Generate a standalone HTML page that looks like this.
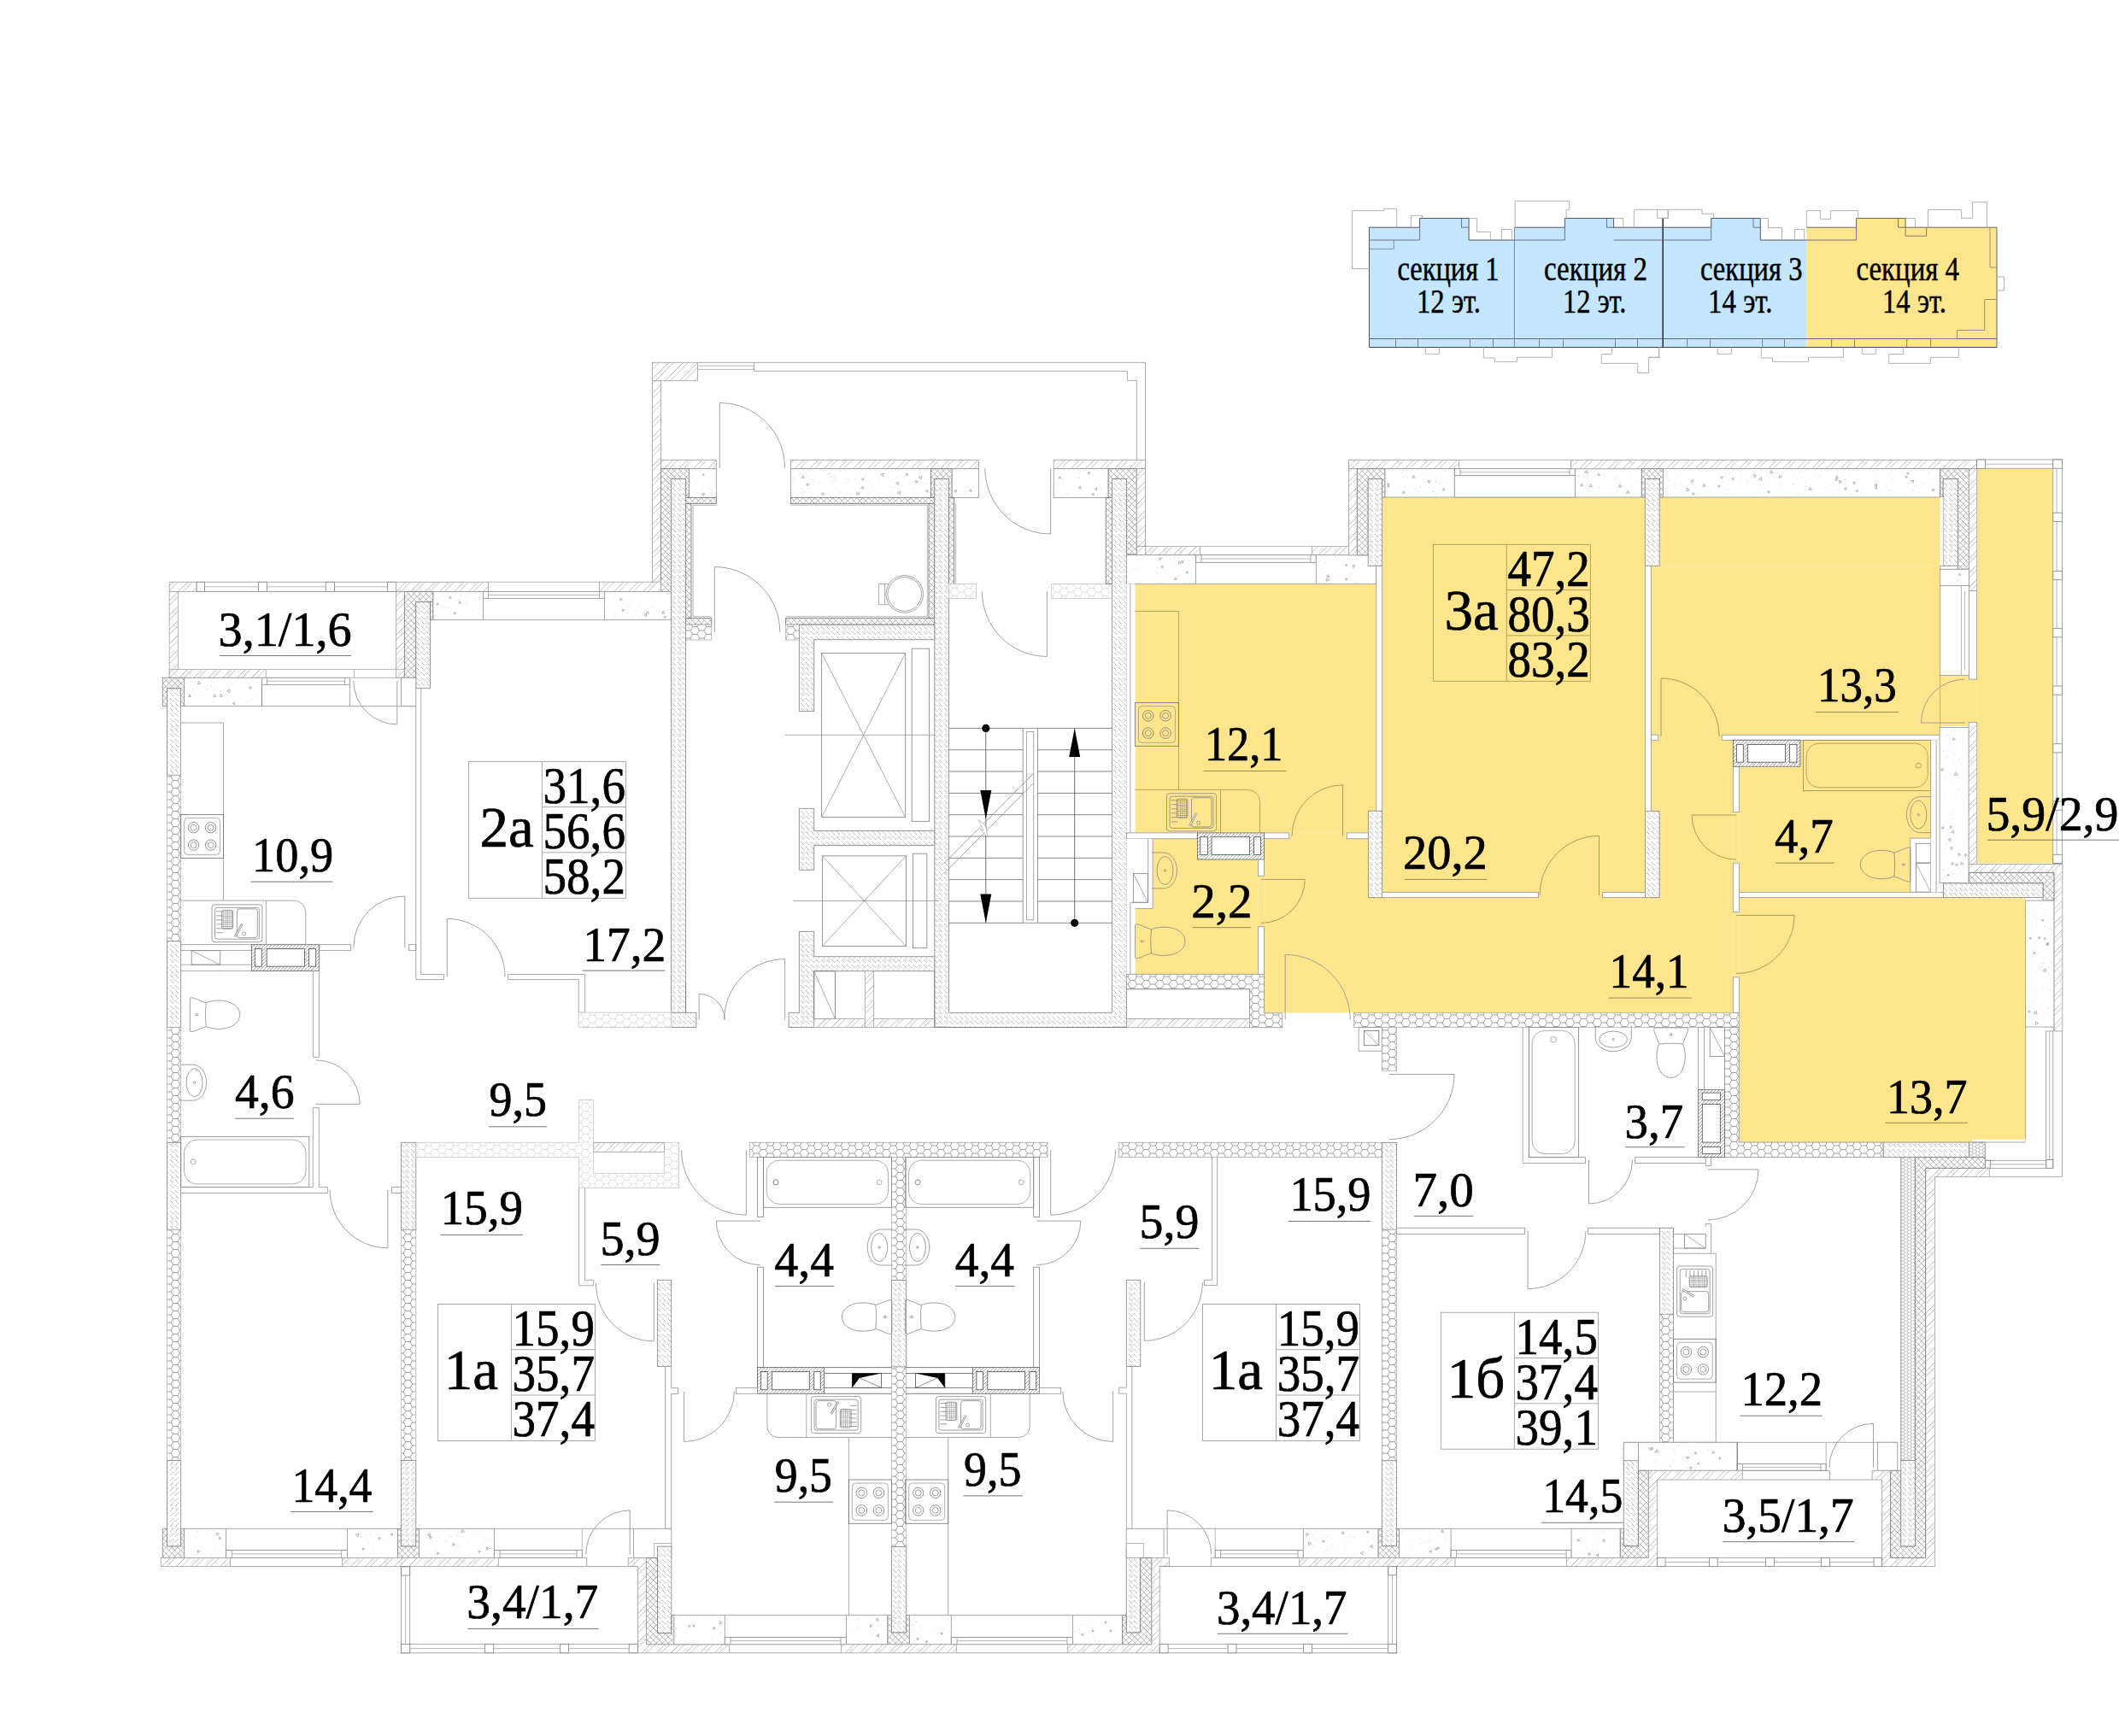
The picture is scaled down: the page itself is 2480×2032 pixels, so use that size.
<!DOCTYPE html>
<html><head><meta charset="utf-8"><title>plan</title>
<style>html,body{margin:0;padding:0;background:#fff}svg{display:block}text{font-family:"Liberation Serif",serif;fill:#000;stroke:#000;stroke-width:0.7px;stroke-linejoin:round}</style>
</head><body>
<svg width="2480" height="2032" viewBox="0 0 2480 2032" shape-rendering="auto">
<defs>
<pattern id="pF" width="17" height="17" patternUnits="userSpaceOnUse"><rect width="17" height="17" fill="#fff"/><path d="M-1 18L18 -1M-1 6.8L6.8 -1M4.8 18L18 4.8" stroke="#a6a6a6" stroke-width="0.7" fill="none"/></pattern>
<pattern id="pB" width="12" height="12" patternUnits="userSpaceOnUse"><rect width="12" height="12" fill="#fff"/><path d="M1 1L5.2 5.2M6.8 6.8L11 11M7 1L11.2 5.2M0.8 6.8L5 11M-1 11L1 13M11 -1L13 1" stroke="#a8a8a8" stroke-width="0.7" fill="none"/></pattern>
<pattern id="pB2" width="12" height="12" patternUnits="userSpaceOnUse"><rect width="12" height="12" fill="#fff"/><path d="M1 11L5.2 6.8M6.8 5.2L11 1M7 11L11.2 6.8M0.8 5.2L5 1M-1 1L1 -1M11 13L13 11" stroke="#a8a8a8" stroke-width="0.7" fill="none"/></pattern>
<pattern id="pX" width="7" height="7" patternUnits="userSpaceOnUse"><rect width="7" height="7" fill="#fff"/><path d="M-0.5 -0.5L7.5 7.5M-0.5 4L4 -0.5M3 7.5L7.5 3" stroke="#8a8a8a" stroke-width="0.6" fill="none"/></pattern>
<pattern id="pH" width="16" height="9" patternUnits="userSpaceOnUse"><rect width="16" height="9" fill="#fff"/><path d="M0 4.5L2.67 0L8 0L10.67 4.5L8 9L2.67 9ZM10.67 4.5L16 4.5" stroke="#7c7c7c" stroke-width="0.7" fill="none"/></pattern>
<pattern id="pHl" width="16" height="9" patternUnits="userSpaceOnUse"><rect width="16" height="9" fill="#fff"/><path d="M0 4.5L2.67 0L8 0L10.67 4.5L8 9L2.67 9ZM10.67 4.5L16 4.5" stroke="#d2d2d2" stroke-width="0.7" fill="none"/></pattern>
<pattern id="pF2" width="4" height="4" patternUnits="userSpaceOnUse"><rect width="4" height="4" fill="#fff"/><path d="M-1 5L5 -1M-1 1L1 -1M3 5L5 3" stroke="#888" stroke-width="0.7" fill="none"/></pattern>
<pattern id="pG" width="2.4" height="2.4" patternUnits="userSpaceOnUse"><path d="M0 1.2h2.4M1.2 0v2.4" stroke="#888" stroke-width="0.5" fill="none"/></pattern>
<pattern id="pHs" width="8" height="4" patternUnits="userSpaceOnUse"><rect width="8" height="4" fill="#fff"/><path d="M0 2L1.33 0L4 0L5.33 2L4 4L1.33 4ZM5.33 2L8 2" stroke="#8a8a8a" stroke-width="0.55" fill="none"/></pattern>
</defs>
<rect width="2480" height="2032" fill="#fff"/>
<path d="M1602.5 266.2L1661.6 266.2L1661.6 255.5L1719.1 255.5L1719.1 281L1772.4 281L1772.4 406.5L1602.5 406.5Z" stroke="none" stroke-width="0.85" fill="#c4e7ff"/>
<path d="M1772.4 266.2L1831.4 266.2L1831.4 255.5L1888.6 255.5L1888.6 266.2L1946 266.2L1946 406.5L1772.4 406.5Z" stroke="none" stroke-width="0.85" fill="#c4e7ff"/>
<path d="M1946 266.2L2002.7 266.2L2002.7 255.5L2060.3 255.5L2060.3 281L2114.4 281L2114.4 406.5L1946 406.5Z" stroke="none" stroke-width="0.85" fill="#c4e7ff"/>
<path d="M2114.4 266.2L2172.6 266.2L2172.6 255.5L2230.1 255.5L2230.1 266.2L2337 266.2L2337 406.5L2114.4 406.5Z" stroke="none" stroke-width="0.85" fill="#ffe58c"/>
<path d="M1602.5 406.5L1602.5 266.2L1661.6 266.2L1661.6 255.5L1719.1 255.5L1719.1 281L1772.4 281" stroke="#556" stroke-width="1" fill="none"/>
<path d="M1772.4 266.2L1831.4 266.2L1831.4 255.5L1888.6 255.5L1888.6 266.2L1946 266.2" stroke="#556" stroke-width="1" fill="none"/>
<path d="M1946 266.2L2002.7 266.2L2002.7 255.5L2060.3 255.5L2060.3 281L2114.4 281" stroke="#556" stroke-width="1" fill="none"/>
<path d="M2114.4 266.2L2172.6 266.2L2172.6 255.5L2230.1 255.5L2230.1 266.2L2337 266.2L2337 406.5" stroke="#666" stroke-width="1" fill="none"/>
<path d="M1602.5 406.5L2337 406.5" stroke="#445" stroke-width="1.2" fill="none"/>
<path d="M1602.5 396.5L2337 396.5" stroke="#667" stroke-width="1" fill="none"/>
<path d="M1772.4 266.2L1772.4 406.5" stroke="#789" stroke-width="1" fill="none"/>
<path d="M1946.2 255L1946.2 406.5" stroke="#334" stroke-width="1.6" fill="none"/>
<path d="M1602.5 281L1661.6 281" stroke="#667" stroke-width="0.9" fill="none"/>
<path d="M1772.4 281L1831.4 281" stroke="#667" stroke-width="0.9" fill="none"/>
<path d="M1888.6 281L1946 281" stroke="#667" stroke-width="0.9" fill="none"/>
<path d="M1946 281L2002.7 281" stroke="#667" stroke-width="0.9" fill="none"/>
<path d="M2114.4 281L2172.6 281" stroke="#667" stroke-width="0.9" fill="none"/>
<path d="M1661.6 266.2L1661.6 281" stroke="#667" stroke-width="0.9" fill="none"/>
<path d="M1831.4 266.2L1831.4 281" stroke="#667" stroke-width="0.9" fill="none"/>
<path d="M2002.7 266.2L2002.7 281" stroke="#667" stroke-width="0.9" fill="none"/>
<path d="M2172.6 266.2L2172.6 281" stroke="#667" stroke-width="0.9" fill="none"/>
<path d="M1602.5 291.4L1631.3 291.4L1631.3 281" stroke="#789" stroke-width="0.9" fill="none"/>
<path d="M1710.5 255.5L1710.5 266.2L1719.1 266.2" stroke="#667" stroke-width="0.9" fill="none"/>
<path d="M1880.5 255.5L1880.5 266.2L1889.1 266.2" stroke="#667" stroke-width="0.9" fill="none"/>
<path d="M2052 255.5L2052 266.2L2060.6 266.2" stroke="#667" stroke-width="0.9" fill="none"/>
<path d="M2221.5 255.5L2221.5 266.2L2230.1 266.2" stroke="#667" stroke-width="0.9" fill="none"/>
<path d="M2230.1 266.2L2230.1 276.2L2254.7 276.2L2254.7 266.2" stroke="#776" stroke-width="0.9" fill="none"/>
<path d="M1633.5 396.5L1633.5 406.5" stroke="#778" stroke-width="0.9" fill="none"/>
<path d="M1659.5 396.5L1659.5 406.5" stroke="#778" stroke-width="0.9" fill="none"/>
<path d="M1720.5 396.5L1720.5 406.5" stroke="#778" stroke-width="0.9" fill="none"/>
<path d="M1747.5 396.5L1747.5 406.5" stroke="#778" stroke-width="0.9" fill="none"/>
<path d="M1801.5 396.5L1801.5 406.5" stroke="#778" stroke-width="0.9" fill="none"/>
<path d="M1829.5 396.5L1829.5 406.5" stroke="#778" stroke-width="0.9" fill="none"/>
<path d="M1890.5 396.5L1890.5 406.5" stroke="#778" stroke-width="0.9" fill="none"/>
<path d="M1916.5 396.5L1916.5 406.5" stroke="#778" stroke-width="0.9" fill="none"/>
<path d="M1974.7 396.5L1974.7 406.5" stroke="#778" stroke-width="0.9" fill="none"/>
<path d="M2001.5 396.5L2001.5 406.5" stroke="#778" stroke-width="0.9" fill="none"/>
<path d="M2062.7 396.5L2062.7 406.5" stroke="#778" stroke-width="0.9" fill="none"/>
<path d="M2088.5 396.5L2088.5 406.5" stroke="#778" stroke-width="0.9" fill="none"/>
<path d="M2143.6 396.5L2143.6 406.5" stroke="#778" stroke-width="0.9" fill="none"/>
<path d="M2170.6 396.5L2170.6 406.5" stroke="#778" stroke-width="0.9" fill="none"/>
<path d="M2231.6 396.5L2231.6 406.5" stroke="#778" stroke-width="0.9" fill="none"/>
<path d="M2259.7 396.5L2259.7 406.5" stroke="#778" stroke-width="0.9" fill="none"/>
<path d="M2259.7 396.5L2290.5 396.5L2290.5 386.5L2322.7 386.5L2322.7 350.5L2337 350.5" stroke="#887" stroke-width="0.9" fill="none"/>
<path d="M2329 266.2L2329 313L2337 313" stroke="#887" stroke-width="0.9" fill="none"/>
<path d="M1602.5 314.5L1582.4 314.5L1582.4 246.6L1619.6 246.6L1619.6 244.3L1634.7 244.3L1634.7 266.2" stroke="#aaa" stroke-width="0.9" fill="none"/>
<path d="M1651.3 266.2L1651.3 252.3L1664.6 252.3L1664.6 255.5" stroke="#aaa" stroke-width="0.9" fill="none"/>
<path d="M1719.1 255.5L1728.6 255.5L1728.6 271.5L1744.4 271.5L1744.4 281" stroke="#aaa" stroke-width="0.9" fill="none"/>
<path d="M1757.4 281L1757.4 268.5L1769.4 268.5L1769.4 281" stroke="#aaa" stroke-width="0.9" fill="none"/>
<path d="M1772.4 266.2L1773.2 266.2L1773.2 235.3L1836.7 235.3L1836.7 245.7L1833.2 245.7L1833.2 255.5" stroke="#aaa" stroke-width="0.9" fill="none"/>
<path d="M1888.6 255.5L1899.8 255.5L1899.8 266.2" stroke="#aaa" stroke-width="0.9" fill="none"/>
<path d="M1912.4 266.2L1912.4 245.3L1939.7 245.3L1939.7 255.3L1952 255.3L1952 245.5L1939 245.5" stroke="#aaa" stroke-width="0.9" fill="none"/>
<path d="M1946 255.3L1952.5 255.3L1952.5 245.3L1992 245.3L1992 250.3L2005.7 250.3L2005.7 255.5" stroke="#aaa" stroke-width="0.9" fill="none"/>
<path d="M2060.3 255.5L2069.5 255.5L2069.5 266.5L2085.5 266.5L2085.5 281" stroke="#aaa" stroke-width="0.9" fill="none"/>
<path d="M2100.4 281L2100.4 268.5L2111.7 268.5L2111.7 281" stroke="#aaa" stroke-width="0.9" fill="none"/>
<path d="M2114.4 266.2L2114.4 246.6L2130.4 246.6L2130.4 256.4L2142.4 256.4L2142.4 246.6L2174.7 246.6L2174.7 255.5" stroke="#aaa" stroke-width="0.9" fill="none"/>
<path d="M2230.1 255.5L2241.5 255.5L2241.5 266.2" stroke="#aaa" stroke-width="0.9" fill="none"/>
<path d="M2256.5 266.2L2256.5 245.5L2295.6 245.5L2295.6 255.3L2308.6 255.3L2308.6 236.6L2325.4 236.6L2325.4 266.2" stroke="#aaa" stroke-width="0.9" fill="none"/>
<path d="M2337 324L2345.5 324L2345.5 340L2337 340" stroke="#aaa" stroke-width="0.9" fill="none"/>
<path d="M1668.4 406.5L1668.4 414.3L1684.4 414.3L1684.4 406.5" stroke="#aaa" stroke-width="0.9" fill="none"/>
<path d="M1736.3 406.5L1736.3 419L1749.5 419L1749.5 423.4L1775.5 423.4L1775.5 418.2L1816.5 418.2L1816.5 406.5" stroke="#aaa" stroke-width="0.9" fill="none"/>
<path d="M1886.5 406.5L1886.5 414.5L1874.3 414.5L1874.3 425.3L1916.7 425.3L1916.7 436.5L1929.7 436.5L1929.7 418.3L1941.7 418.3L1941.7 406.5" stroke="#aaa" stroke-width="0.9" fill="none"/>
<path d="M1930 418.3L1941.7 418.3L1941.7 406.5" stroke="#aaa" stroke-width="0.9" fill="none"/>
<path d="M2010.3 406.5L2010.3 414.3L2026.5 414.3L2026.5 406.5" stroke="#aaa" stroke-width="0.9" fill="none"/>
<path d="M2061.3 406.5L2061.3 419L2074.5 419L2074.5 423.4L2116.5 423.4L2116.5 418.2L2157.5 418.2L2157.5 406.5" stroke="#aaa" stroke-width="0.9" fill="none"/>
<path d="M2179.4 406.5L2179.4 414.3L2195.4 414.3L2195.4 406.5" stroke="#aaa" stroke-width="0.9" fill="none"/>
<path d="M2227.6 406.5L2227.6 414.5L2210.7 414.5L2210.7 425.3L2259.6 425.3L2259.6 418.3L2292.3 418.3L2292.3 406.5" stroke="#aaa" stroke-width="0.9" fill="none"/>
<text x="1635.5" y="328.2" font-size="40.5" textLength="119" lengthAdjust="spacingAndGlyphs" style="stroke-width:0.5px">секция 1</text>
<text x="1658" y="366" font-size="40.5" textLength="75" lengthAdjust="spacingAndGlyphs" style="stroke-width:0.5px">12 эт.</text>
<text x="1807" y="328.2" font-size="40.5" textLength="121" lengthAdjust="spacingAndGlyphs" style="stroke-width:0.5px">секция 2</text>
<text x="1829" y="366" font-size="40.5" textLength="74.5" lengthAdjust="spacingAndGlyphs" style="stroke-width:0.5px">12 эт.</text>
<text x="1990" y="328.2" font-size="40.5" textLength="119.5" lengthAdjust="spacingAndGlyphs" style="stroke-width:0.5px">секция 3</text>
<text x="1999" y="366" font-size="40.5" textLength="75.5" lengthAdjust="spacingAndGlyphs" style="stroke-width:0.5px">14 эт.</text>
<text x="2172.5" y="328.2" font-size="40.5" textLength="120.5" lengthAdjust="spacingAndGlyphs" style="stroke-width:0.5px">секция 4</text>
<text x="2203" y="366" font-size="40.5" textLength="75" lengthAdjust="spacingAndGlyphs" style="stroke-width:0.5px">14 эт.</text>
<rect x="198.2" y="681.3" width="31.9" height="11.1" fill="url(#pF)" stroke="#a0a0a0" stroke-width="0.8" />
<rect x="198.2" y="692.4" width="10.5" height="100.9" fill="url(#pF)" stroke="#a0a0a0" stroke-width="0.8" />
<rect x="198.2" y="783.4" width="113" height="9.9" fill="url(#pF)" stroke="#a0a0a0" stroke-width="0.8" />
<path d="M230.1 681.3L463.4 681.3" stroke="#999" stroke-width="0.85" fill="none"/>
<path d="M230.1 686.8L463.4 686.8" stroke="#aaa" stroke-width="0.85" fill="none"/>
<path d="M230.1 692.4L463.4 692.4" stroke="#888" stroke-width="0.85" fill="none"/>
<rect x="230.1" y="681.3" width="9.4" height="11.1" fill="#fff" stroke="#888" stroke-width="0.85" />
<rect x="302.5" y="681.3" width="9.9" height="11.1" fill="#fff" stroke="#888" stroke-width="0.85" />
<rect x="381.2" y="681.3" width="10.3" height="11.1" fill="#fff" stroke="#888" stroke-width="0.85" />
<rect x="453.5" y="681.3" width="9.9" height="11.1" fill="#fff" stroke="#888" stroke-width="0.85" />
<rect x="463.4" y="681.3" width="108.1" height="11.1" fill="url(#pF)" stroke="#a0a0a0" stroke-width="0.8" />
<rect x="463.4" y="692.4" width="10" height="100.9" fill="url(#pF)" stroke="#a0a0a0" stroke-width="0.8" />
<path d="M473.4 692.4L507 692.4L507 704.7L486.8 704.7L486.8 793.3L473.4 793.3Z" stroke="#7c7c7c" stroke-width="0.85" fill="url(#pX)"/>
<rect x="486.8" y="704.7" width="16.7" height="100.7" fill="url(#pB)" stroke="#888" stroke-width="0.85" />
<rect x="503.5" y="704.7" width="3.5" height="20.8" fill="url(#pX)" stroke="#777" stroke-width="0.85" />
<rect x="507" y="692.4" width="58.5" height="33.1" fill="#fff" stroke="#999" stroke-width="0.85" />
<path d="M526.2 698.4L528.4 699.3L526.4 700.7ZM539.8 705.9L536.8 706.4L537.9 703.6ZM513.2 707.7L510.8 707.9L511.9 705.8ZM533.4 718.9L530.8 718.2L532.7 716.4Z" stroke="#888" stroke-width="0.6" fill="none"/>
<path d="M543.2 722h.7M540.5 705.9h.7M562.2 695.8h.7M555.8 702.8h.7M516.9 697.8h.7M525.8 718.1h.7M518.8 711.3h.7M543.8 705.2h.7M538.9 696.2h.7M512.2 700.4h.7M546.1 706.8h.7M526.1 711.4h.7M533.7 703.1h.7M552.3 714.7h.7M522.3 711.1h.7M537.6 719.9h.7M548.8 702.8h.7M562.4 697.8h.7M531.8 716.4h.7M517.3 708.6h.7" stroke="#bbb" stroke-width="0.7" fill="none"/>
<path d="M311.2 783.4L473.4 783.4" stroke="#aaa" stroke-width="0.85" fill="none"/>
<path d="M311.2 793.3L473.4 793.3" stroke="#aaa" stroke-width="0.85" fill="none"/>
<path d="M414.5 783.4L414.5 793.3" stroke="#aaa" stroke-width="0.85" fill="none"/>
<path d="M190.3 793.3L215.7 793.3L215.7 826.6L211.3 826.6L211.3 805.8L195.5 805.8L195.5 826.6L190.3 826.6Z" stroke="#858585" stroke-width="0.85" fill="url(#pX)"/>
<rect x="195.5" y="805.8" width="15.8" height="101.5" fill="url(#pB)" stroke="#888" stroke-width="0.85" />
<rect x="215.7" y="793.3" width="90.8" height="33.3" fill="#fff" stroke="#999" stroke-width="0.85" />
<path d="M222.2 812.7L223.5 815.6L220.4 815.3ZM292.3 803.1L294.7 805.2L291.8 806.3ZM269 806.9L268.9 810.7L265.7 808.7ZM260.7 815.1L257.4 815.6L258.6 812.5ZM274.3 822L274.5 824.7L272 823.5ZM253.1 814.8L250.4 815.9L250.8 813ZM234.8 800.2L231.4 800.7L232.6 797.5Z" stroke="#888" stroke-width="0.6" fill="none"/>
<path d="M228.9 802.6h.7M251.6 820.8h.7M224.7 808.5h.7M265.4 821.2h.7M288.8 820.6h.7M241.9 807.5h.7M248.8 821.2h.7M300.8 799.7h.7M233 802.1h.7M238 809.5h.7M268.8 803h.7M218.1 807.6h.7M249.8 811.9h.7M300.4 815.5h.7M262.4 813.4h.7M276.4 796.9h.7M295.8 818.2h.7M293.6 818.7h.7M251.8 807h.7M226.7 813.9h.7M223.1 797.3h.7M235.8 800.1h.7M247.2 796.8h.7M217.7 799.7h.7M226.5 806h.7M219.9 820.9h.7M271 799.7h.7M239.6 805.5h.7M249.3 798.9h.7M291.4 824.4h.7M258.1 809.5h.7M225.2 798.3h.7M247.4 803.1h.7M289.6 800h.7M219.7 823.2h.7" stroke="#bbb" stroke-width="0.7" fill="none"/>
<rect x="306.5" y="793.3" width="103" height="8.1" fill="#fff" stroke="#999" stroke-width="0.85" />
<path d="M312.5 797.3L403.5 797.3" stroke="#aaa" stroke-width="0.85" fill="none"/>
<path d="M312.5 793.3L312.5 801.4" stroke="#999" stroke-width="0.85" fill="none"/>
<path d="M403.5 793.3L403.5 801.4" stroke="#999" stroke-width="0.85" fill="none"/>
<path d="M306.5 801.4L306.5 826.6" stroke="#888" stroke-width="0.85" fill="none"/>
<path d="M409.5 801.4L409.5 826.6" stroke="#999" stroke-width="0.85" fill="none"/>
<path d="M306.5 826.6L486.8 826.6" stroke="#999" stroke-width="0.85" fill="none"/>
<path d="M464.8 796.9L464.8 847.9A51 51 0 0 1 413.8 796.9" stroke="#999" stroke-width="0.9" fill="none"/>
<rect x="469.4" y="793.3" width="17.4" height="33.3" fill="#fff" stroke="#999" stroke-width="0.85" />
<text x="255.6" y="756.2" font-size="56" textLength="156" lengthAdjust="spacingAndGlyphs">3,1/1,6</text>
<path d="M256.9 767.5L410.9 767.5" stroke="#777" stroke-width="1" fill="none"/>
<rect x="763.4" y="424.3" width="53.1" height="21.4" fill="url(#pF)" stroke="#a0a0a0" stroke-width="0.8" />
<rect x="763.4" y="445.7" width="10.1" height="246.8" fill="url(#pF)" stroke="#a0a0a0" stroke-width="0.8" />
<path d="M816.5 424.3L1117 424.3" stroke="#999" stroke-width="0.85" fill="none"/>
<path d="M816.5 428.2L882.5 428.2" stroke="#aaa" stroke-width="0.85" fill="none"/>
<path d="M816.5 432.4L882.5 432.4" stroke="#aaa" stroke-width="0.85" fill="none"/>
<path d="M882.5 424.3L882.5 434.4" stroke="#999" stroke-width="0.85" fill="none"/>
<rect x="773.5" y="538.4" width="64.8" height="10.3" fill="url(#pF)" stroke="#a0a0a0" stroke-width="0.8" />
<path d="M773.5 548.7L806.6 548.7L806.6 582.4L802.6 582.4L802.6 560.6L785.8 560.6L785.8 692.5L773.5 692.5Z" stroke="#7c7c7c" stroke-width="0.85" fill="url(#pX)"/>
<rect x="806.6" y="548.7" width="31.7" height="33.7" fill="#fff" stroke="#999" stroke-width="0.85" />
<path d="M821.9 555.4L824.1 554.8L823.5 557ZM824.4 577.3L823.8 580.6L821.3 578.5Z" stroke="#888" stroke-width="0.6" fill="none"/>
<path d="M815.8 561.6h.7M813.2 573.6h.7M823.4 573.8h.7M817.7 557.3h.7M831.1 580h.7M832.2 574.6h.7M831.3 572.7h.7M814.9 566.1h.7M818.4 551.6h.7M809.4 559h.7" stroke="#bbb" stroke-width="0.7" fill="none"/>
<rect x="802.6" y="582.4" width="35.7" height="7" fill="url(#pX)" stroke="#777" stroke-width="0.85" />
<rect x="802.6" y="589.4" width="6.4" height="134.2" fill="url(#pX)" stroke="#777" stroke-width="0.85" />
<rect x="802.6" y="723.6" width="30.2" height="7.5" fill="url(#pX)" stroke="#777" stroke-width="0.85" />
<path d="M838.3 591.4L811 591.4L811 721.6L832.8 721.6" stroke="#aaa" stroke-width="0.85" fill="none"/>
<rect x="802.6" y="731.1" width="30.2" height="17.9" fill="url(#pH)" stroke="#aaa" stroke-width="0.75" />
<path d="M842.3 547.8L842.3 471.5A76.3 76.3 0 0 1 918.6 547.8" stroke="#999" stroke-width="0.9" fill="none"/>
<path d="M836.3 740L836.3 663.5A76.5 76.5 0 0 1 912.8 740" stroke="#999" stroke-width="0.9" fill="none"/>
<rect x="701.5" y="681.2" width="72" height="11.3" fill="url(#pF)" stroke="#a0a0a0" stroke-width="0.8" />
<rect x="565.4" y="692.5" width="142.1" height="7.9" fill="#fff" stroke="#999" stroke-width="0.85" />
<path d="M571.5 696.4L701.5 696.4" stroke="#aaa" stroke-width="0.85" fill="none"/>
<path d="M571.5 692.5L571.5 700.4" stroke="#999" stroke-width="0.85" fill="none"/>
<path d="M701.5 692.5L701.5 700.4" stroke="#999" stroke-width="0.85" fill="none"/>
<path d="M571.3 681.2L701.5 681.2" stroke="#aaa" stroke-width="0.85" fill="none"/>
<path d="M565.4 725.6L707.5 725.6" stroke="#999" stroke-width="0.85" fill="none"/>
<rect x="707.5" y="692.5" width="78.3" height="33.1" fill="#fff" stroke="#999" stroke-width="0.85" />
<path d="M730.9 713.8L728.8 715.9L728 713.1ZM779.8 721.8L777.9 723.9L777.1 721.2ZM726.9 703L725 701.4L727.4 700.5ZM756.5 718.4L756.4 721.4L753.9 719.8ZM759.3 718.1L756.1 718.1L757.7 715.3ZM776.3 715L777.8 717.6L774.8 717.6Z" stroke="#888" stroke-width="0.6" fill="none"/>
<path d="M722.8 717.5h.7M734.2 717.8h.7M781.7 706h.7M739.3 722.1h.7M763.4 699.4h.7M718.9 698.9h.7M776.7 718h.7M720.4 718.6h.7M782.3 713.6h.7M735.5 710.5h.7M719.2 694.9h.7M781.6 713.4h.7M748.6 721.7h.7M741.7 719.9h.7M770.9 700.6h.7M728.2 703h.7M727.4 711.6h.7M728.8 706.7h.7M719.2 721h.7M735.8 707.8h.7M752.8 720.8h.7M740.8 721.2h.7M746.8 710h.7M748.4 695h.7M742.2 699.8h.7M709.8 717.8h.7M722.3 708.3h.7M763.4 710.7h.7M733.7 709.6h.7M750.8 717.3h.7" stroke="#bbb" stroke-width="0.7" fill="none"/>
<path d="M1117 424.3L1340.5 424.3L1340.5 639" stroke="#999" stroke-width="0.85" fill="none"/>
<path d="M882.5 434.4L1319.4 434.4L1319.4 445.3L1330.3 445.3L1330.3 538.4" stroke="#999" stroke-width="0.85" fill="none"/>
<rect x="925.4" y="538.4" width="220.2" height="10.3" fill="url(#pF)" stroke="#a0a0a0" stroke-width="0.8" />
<rect x="1233.2" y="538.4" width="107.3" height="10.3" fill="url(#pF)" stroke="#a0a0a0" stroke-width="0.8" />
<rect x="925.4" y="548.7" width="164.1" height="33.7" fill="#fff" stroke="#999" stroke-width="0.85" />
<path d="M945.2 568.8L943.8 566.5L946.5 566.4ZM1048.7 565L1052.1 564.5L1050.8 567.7ZM1071.3 562.8L1074.3 563.4L1072.3 565.7ZM1007.7 571.4L1009.8 569.2L1010.7 572.1ZM1003.3 575.8L1006 578.2L1002.6 579.3ZM1075.4 558.1L1079 557.5L1077.7 561ZM1062.4 556.7L1059.6 556L1061.6 553.8ZM941.6 559.2L938.3 559.4L939.7 556.5ZM1053.4 578.2L1050.4 576.7L1053.2 574.8ZM1034.4 554.2L1033.3 557.8L1030.7 555ZM961.7 579.1L962.9 576.4L964.7 578.8ZM1085.8 576.2L1083.2 574.8L1085.7 573.3ZM1010.4 562.6L1008.4 560.8L1010.9 559.9Z" stroke="#888" stroke-width="0.6" fill="none"/>
<path d="M1043 551.3h.7M1016.1 563.8h.7M930.3 560.5h.7M1027.3 565.9h.7M937.7 580h.7M1053.6 579.6h.7M944.2 558.6h.7M933.7 573.8h.7M970.7 554.5h.7M995 577.8h.7M1058.5 558.4h.7M951.3 578h.7M1018.8 571.5h.7M941.7 552.4h.7M1037.6 563.3h.7M939 578.6h.7M1029 574.5h.7M940.8 576.1h.7M938.1 576.3h.7M1000 560.8h.7M1015.9 578.2h.7M970.3 554.5h.7M1011.8 557.8h.7M944.9 555.5h.7M935.5 556.7h.7M977.3 559.8h.7M1049 559.3h.7M1007.5 556h.7M983 551.2h.7M967.5 551.2h.7M1044.8 567.1h.7M957.7 564.8h.7M1077 553.9h.7M1058.5 563.5h.7M1006.6 575.5h.7M990.3 565.7h.7M1037.5 579.9h.7M982.3 575.4h.7M1040.5 569.6h.7M992.2 561h.7M936.1 554.6h.7M938.7 572.7h.7M968.3 555.5h.7M940.9 575.7h.7M1066.8 570.6h.7M972.5 557.9h.7M974.3 564.3h.7M952.6 563.9h.7M969.5 579.3h.7M1083.1 566.9h.7M966.5 579.4h.7M977 561.3h.7M927.6 562h.7M1003.4 565.6h.7M959.6 565.7h.7M928.2 558.5h.7M941.8 562.6h.7M934.1 551.4h.7M976.1 557.6h.7M1021.2 566.4h.7M1047.6 570.2h.7M1042 576.8h.7M989.8 560.4h.7M1085.1 555.1h.7M1043.3 569.8h.7" stroke="#bbb" stroke-width="0.7" fill="none"/>
<path d="M1089.5 548.7L1114.2 548.7L1114.2 582.4L1110.3 582.4L1110.3 560.6L1093.8 560.6L1093.8 582.4L1089.5 582.4Z" stroke="#7c7c7c" stroke-width="0.85" fill="url(#pX)"/>
<rect x="1114.2" y="548.7" width="31.4" height="33.7" fill="#fff" stroke="#999" stroke-width="0.85" />
<path d="M1119.8 573.7L1118.6 576.7L1116.6 574.2ZM1137 575.6L1134.1 574.5L1136.4 572.5Z" stroke="#888" stroke-width="0.6" fill="none"/>
<path d="M1130 575.5h.7M1138.2 575.2h.7M1132.2 577.2h.7M1134.9 571.3h.7M1122.5 551.6h.7M1119.8 561.4h.7M1119.1 575.5h.7M1131.5 569.3h.7M1133.4 570.9h.7M1129.6 550.8h.7" stroke="#bbb" stroke-width="0.7" fill="none"/>
<rect x="925.4" y="582.4" width="168.4" height="7" fill="url(#pX)" stroke="#777" stroke-width="0.85" />
<rect x="1087" y="589.4" width="6.8" height="134.2" fill="url(#pX)" stroke="#777" stroke-width="0.85" />
<rect x="919.6" y="723.6" width="174.2" height="7.5" fill="url(#pX)" stroke="#777" stroke-width="0.85" />
<path d="M925.4 591.2L1085.3 591.2L1085.3 721.6L919.6 721.6" stroke="#aaa" stroke-width="0.85" fill="none"/>
<rect x="1093.8" y="560.6" width="16.6" height="641.6" fill="url(#pB)" stroke="#888" stroke-width="0.85" />
<rect x="1110.4" y="582.4" width="6.2" height="101.1" fill="url(#pX)" stroke="#777" stroke-width="0.85" />
<path d="M1118.6 589L1118.6 683.5" stroke="#aaa" stroke-width="0.85" fill="none"/>
<rect x="1110.7" y="683.5" width="31.9" height="16.9" fill="url(#pHl)" stroke="#ccc" stroke-width="0.85" />
<rect x="1230.6" y="683.5" width="71" height="16.9" fill="url(#pHl)" stroke="#ccc" stroke-width="0.85" />
<path d="M1229.6 548.2L1229.6 625A76.8 76.8 0 0 1 1152.8 548.2" stroke="#999" stroke-width="0.9" fill="none"/>
<path d="M1225.4 692.4L1225.4 768.4A76 76 0 0 1 1149.4 692.4" stroke="#999" stroke-width="0.9" fill="none"/>
<circle cx="1058.7" cy="695.4" r="21.8" fill="#fff" stroke="#999" stroke-width="0.9"/>
<circle cx="1058.7" cy="695.4" r="19.8" fill="none" stroke="#999" stroke-width="0.9"/>
<path d="M1040 683.5L1028.4 683.5L1028.4 707.7L1040 707.7" stroke="#999" stroke-width="0.85" fill="none"/>
<path d="M1035.5 683.5L1035.5 707.7" stroke="#aaa" stroke-width="0.85" fill="none"/>
<rect x="1233.2" y="548.7" width="64" height="33.7" fill="#fff" stroke="#999" stroke-width="0.85" />
<path d="M1280.7 572.4L1283.4 570.9L1283.3 574ZM1274.3 552L1275.8 554.2L1273.2 554.4ZM1240.3 557.6L1241.9 559.6L1239.3 560ZM1277.5 578.8L1279.9 577.3L1280 580.1ZM1264.2 568.8L1265.5 571.7L1262.3 571.4Z" stroke="#888" stroke-width="0.6" fill="none"/>
<path d="M1273.8 553h.7M1244 558.2h.7M1279.8 559.7h.7M1269.3 551.1h.7M1238.8 558.7h.7M1275.5 571.3h.7M1275.7 559.3h.7M1266.2 564.5h.7M1263.2 554.2h.7M1288.8 556.6h.7M1293.9 578.5h.7M1236.3 564.3h.7M1284.4 579.5h.7M1262.2 558.7h.7M1247.8 578.8h.7M1247.8 568h.7M1243.7 566.3h.7M1292.4 554.6h.7M1284.4 565.8h.7M1288.4 571.6h.7M1249.1 577.4h.7M1264.4 551.4h.7M1235.4 565.3h.7M1262.2 559.7h.7M1243.6 560.9h.7" stroke="#bbb" stroke-width="0.7" fill="none"/>
<path d="M1297.2 548.7L1330.3 548.7L1330.3 649.2L1318.4 649.2L1318.4 560.6L1301.6 560.6L1301.6 582.4L1297.2 582.4Z" stroke="#7c7c7c" stroke-width="0.85" fill="url(#pX)"/>
<rect x="1330.3" y="548.7" width="10.2" height="100.5" fill="url(#pF)" stroke="#a0a0a0" stroke-width="0.8" />
<rect x="1294.2" y="582.4" width="7.4" height="101.1" fill="url(#pX)" stroke="#777" stroke-width="0.85" />
<rect x="1301.6" y="560.6" width="16.9" height="641.6" fill="url(#pB)" stroke="#888" stroke-width="0.85" />
<rect x="785.6" y="560.6" width="17" height="641.6" fill="url(#pB)" stroke="#888" stroke-width="0.85" />
<rect x="919.6" y="731.1" width="15.8" height="17.9" fill="url(#pH)" stroke="#aaa" stroke-width="0.75" />
<path d="M935.4 731.3L1093.8 731.3L1093.8 748.7L952.7 748.7L952.7 832.6L935.4 832.6Z" stroke="#858585" stroke-width="0.85" fill="url(#pB)"/>
<path d="M935.4 946.4L952.7 946.4L952.7 972.5L1093.8 972.5L1093.8 989.5L952.7 989.5L952.7 1018.3L935.4 1018.3Z" stroke="#858585" stroke-width="0.85" fill="url(#pB)"/>
<rect x="961.6" y="764.4" width="98.1" height="192.1" fill="none" stroke="#888" stroke-width="0.85" />
<path d="M961.6 764.4L1059.7 956.5" stroke="#999" stroke-width="0.8" fill="none"/>
<path d="M1059.7 764.4L961.6 956.5" stroke="#999" stroke-width="0.8" fill="none"/>
<rect x="1067.2" y="759.2" width="20.3" height="202.2" fill="none" stroke="#888" stroke-width="0.85" />
<path d="M918.6 860.3L1093.8 860.3" stroke="#999" stroke-width="0.8" fill="none"/>
<rect x="962.4" y="1001.8" width="98.1" height="105.7" fill="none" stroke="#888" stroke-width="0.85" />
<path d="M962.4 1001.8L1060.5 1107.5" stroke="#999" stroke-width="0.8" fill="none"/>
<path d="M1060.5 1001.8L962.4 1107.5" stroke="#999" stroke-width="0.8" fill="none"/>
<rect x="1068.4" y="999.2" width="16.4" height="110.5" fill="none" stroke="#888" stroke-width="0.85" />
<path d="M928 1054.5L1099 1054.5" stroke="#999" stroke-width="0.8" fill="none"/>
<path d="M1110.4 852.4L1197.2 852.4" stroke="#707070" stroke-width="0.85" fill="none"/>
<path d="M1214.5 852.4L1301.6 852.4" stroke="#707070" stroke-width="0.85" fill="none"/>
<path d="M1110.4 877.7L1197.2 877.7" stroke="#707070" stroke-width="0.85" fill="none"/>
<path d="M1214.5 877.7L1301.6 877.7" stroke="#707070" stroke-width="0.85" fill="none"/>
<path d="M1110.4 903L1197.2 903" stroke="#707070" stroke-width="0.85" fill="none"/>
<path d="M1214.5 903L1301.6 903" stroke="#707070" stroke-width="0.85" fill="none"/>
<path d="M1110.4 928.4L1197.2 928.4" stroke="#707070" stroke-width="0.85" fill="none"/>
<path d="M1214.5 928.4L1301.6 928.4" stroke="#707070" stroke-width="0.85" fill="none"/>
<path d="M1110.4 953.7L1197.2 953.7" stroke="#707070" stroke-width="0.85" fill="none"/>
<path d="M1214.5 953.7L1301.6 953.7" stroke="#707070" stroke-width="0.85" fill="none"/>
<path d="M1110.4 979L1197.2 979" stroke="#707070" stroke-width="0.85" fill="none"/>
<path d="M1214.5 979L1301.6 979" stroke="#707070" stroke-width="0.85" fill="none"/>
<path d="M1110.4 1004.3L1197.2 1004.3" stroke="#707070" stroke-width="0.85" fill="none"/>
<path d="M1214.5 1004.3L1301.6 1004.3" stroke="#707070" stroke-width="0.85" fill="none"/>
<path d="M1110.4 1029.6L1197.2 1029.6" stroke="#707070" stroke-width="0.85" fill="none"/>
<path d="M1214.5 1029.6L1301.6 1029.6" stroke="#707070" stroke-width="0.85" fill="none"/>
<path d="M1110.4 1055L1197.2 1055" stroke="#707070" stroke-width="0.85" fill="none"/>
<path d="M1214.5 1055L1301.6 1055" stroke="#707070" stroke-width="0.85" fill="none"/>
<path d="M1110.4 1080.3L1197.2 1080.3" stroke="#707070" stroke-width="0.85" fill="none"/>
<path d="M1214.5 1080.3L1301.6 1080.3" stroke="#707070" stroke-width="0.85" fill="none"/>
<path d="M1197.2 852.4L1197.2 1080.3" stroke="#888" stroke-width="0.85" fill="none"/>
<path d="M1214.5 852.4L1214.5 1080.3" stroke="#888" stroke-width="0.85" fill="none"/>
<path d="M1197.2 852.4L1214.5 852.4" stroke="#888" stroke-width="0.85" fill="none"/>
<path d="M1197.2 1080.3L1214.5 1080.3" stroke="#888" stroke-width="0.85" fill="none"/>
<rect x="1201.6" y="856.4" width="8.1" height="220.4" fill="none" stroke="#999" stroke-width="0.85" />
<path d="M1153.8 852.4L1153.8 1080.3" stroke="#555" stroke-width="0.85" fill="none"/>
<path d="M1257.7 852.4L1257.7 1080.3" stroke="#555" stroke-width="0.85" fill="none"/>
<circle cx="1153.8" cy="852.4" r="4.6" fill="#000"/><circle cx="1257.7" cy="1080.3" r="4.6" fill="#000"/>
<path d="M1147.3 925.1h13L1153.8 958.8ZM1147.3 1046.4h13L1153.8 1080.3ZM1251.2 886.1h13L1257.7 852.4Z" fill="#000"/>
<path d="M1209.1 905.9L1104.1 1011.4M1209.1 917.2L1104.1 1023.3" stroke="#999" stroke-width="0.9" fill="none"/>
<path d="M1153 966L1145 959.5L1151 972L1147 970L1156 980L1154 969Z" fill="#fff" stroke="#aaa" stroke-width="0.7"/>
<path d="M785.6 1185.3L802.6 1185.3L814.9 1185.3L814.9 1202.5L785.6 1202.5Z" stroke="#858585" stroke-width="0.85" fill="url(#pB)"/>
<path d="M802.6 1185.3L802.6 1150" stroke="#777" stroke-width="0.85" fill="none"/>
<rect x="740" y="1185.3" width="45.6" height="17.2" fill="url(#pHl)" stroke="#ccc" stroke-width="0.85" />
<path d="M818.1 1193.6L818.1 1163.4A30.2 30.2 0 0 1 848.3 1193.6" stroke="#999" stroke-width="0.9" fill="none"/>
<path d="M918.6 1193.6L918.6 1122.6A71 71 0 0 0 847.6 1193.6" stroke="#999" stroke-width="0.9" fill="none"/>
<path d="M935.4 1090.5L952.7 1090.5L952.7 1119.7L1093.8 1119.7L1093.8 1136.7L952.7 1136.7L952.7 1202.5L923.1 1202.5L923.1 1185.3L935.4 1185.3Z" stroke="#858585" stroke-width="0.85" fill="url(#pB)"/>
<rect x="952.7" y="1136.7" width="24.7" height="55.9" fill="none" stroke="#777" stroke-width="0.85" />
<path d="M952.7 1136.7L977.4 1192.6" stroke="#999" stroke-width="0.8" fill="none"/>
<rect x="952.7" y="1192.6" width="59.6" height="9.9" fill="url(#pF)" stroke="#a0a0a0" stroke-width="0.8" />
<rect x="1022.6" y="1192.6" width="71.2" height="9.9" fill="url(#pF)" stroke="#a0a0a0" stroke-width="0.8" />
<rect x="1012.3" y="1136.7" width="10.3" height="65.8" fill="url(#pF)" stroke="#a0a0a0" stroke-width="0.8" />
<path d="M1093.8 1136.7L1093.8 1202.5" stroke="#777" stroke-width="0.85" fill="none"/>
<rect x="1110.4" y="1185.3" width="191.2" height="17.2" fill="url(#pB)" stroke="#888" stroke-width="0.85" />
<path d="M1110.4 1185.3L1110.4 1202.5" stroke="#fff" stroke-width="1.5" fill="none"/>
<path d="M1301.6 1185.3L1301.6 1202.5" stroke="#fff" stroke-width="1.5" fill="none"/>
<path d="M1093.8 1202.5L1318.5 1202.5" stroke="#777" stroke-width="0.85" fill="none"/>
<rect x="195.5" y="907.3" width="16.2" height="194.4" fill="url(#pH)" stroke="#aaa" stroke-width="0.75" />
<rect x="195.5" y="1101.7" width="16.2" height="100.9" fill="url(#pB)" stroke="#888" stroke-width="0.85" />
<rect x="195.5" y="1202.6" width="16.2" height="134.7" fill="url(#pH)" stroke="#aaa" stroke-width="0.75" />
<rect x="195.5" y="1337.3" width="16.2" height="102" fill="url(#pB)" stroke="#888" stroke-width="0.85" />
<rect x="195.5" y="1439.3" width="16.2" height="270.3" fill="url(#pH)" stroke="#aaa" stroke-width="0.75" />
<path d="M211.7 846L261.5 846L261.5 1054.1" stroke="#999" stroke-width="0.85" fill="none"/>
<rect x="211.7" y="953.4" width="49.8" height="51" fill="none" stroke="#777" stroke-width="0.85" />
<rect x="215.7" y="957.4" width="41.8" height="43" rx="4" fill="none" stroke="#999" stroke-width="0.8"/>
<circle cx="226.6" cy="968.7" r="6.2" fill="none" stroke="#777" stroke-width="0.8"/>
<circle cx="226.6" cy="968.7" r="3.5" fill="none" stroke="#888" stroke-width="0.8"/>
<circle cx="226.6" cy="989.1" r="6.2" fill="none" stroke="#777" stroke-width="0.8"/>
<circle cx="226.6" cy="989.1" r="3.5" fill="none" stroke="#888" stroke-width="0.8"/>
<circle cx="246.6" cy="968.7" r="6.2" fill="none" stroke="#777" stroke-width="0.8"/>
<circle cx="246.6" cy="968.7" r="3.5" fill="none" stroke="#888" stroke-width="0.8"/>
<circle cx="246.6" cy="989.1" r="6.2" fill="none" stroke="#777" stroke-width="0.8"/>
<circle cx="246.6" cy="989.1" r="3.5" fill="none" stroke="#888" stroke-width="0.8"/>
<path d="M211.7 1054.1H343.8A14 14 0 0 1 357.8 1068.1V1105.7" stroke="#999" stroke-width="0.85" fill="none"/>
<path d="M311.4 1054.1L311.4 1105.7" stroke="#999" stroke-width="0.85" fill="none"/>
<g transform="translate(277.4 1080.8) rotate(0)" fill="none" stroke="#888" stroke-width="0.8"><rect x="-29.4" y="-21.9" width="58.9" height="43.8" rx="3"/><rect x="-25.9" y="-18.4" width="51.9" height="36.8" rx="3"/><rect x="0" y="-16.9" width="23.9" height="33.8" rx="3"/><rect x="-17.7" y="-15.4" width="13" height="21.9" rx="2" fill="url(#pG)"/><path d="M-24.4 -13.9h7.7M-24.4 -8.9h7.7M-24.4 -4h7.7M-24.4 1h7.7M-24.4 6h7.7M-24.4 10.9h7.7"/><path d="M-2.4 15.9L5.9 0.9" stroke-width="2.4" stroke="#888"/><path d="M-2.4 15.9L5.9 0.9" stroke-width="1" stroke="#fff"/><circle cx="8.2" cy="12.3" r="2"/></g>
<text x="295.1" y="1019.8" font-size="56" textLength="95.1" lengthAdjust="spacingAndGlyphs">10,9</text>
<path d="M293.4 1032.1L389.7 1032.1" stroke="#777" stroke-width="1" fill="none"/>
<rect x="211.7" y="1105.7" width="82.7" height="6.9" fill="none" stroke="#999" stroke-width="0.85" />
<rect x="373.3" y="1105.7" width="37.2" height="6.9" fill="none" stroke="#999" stroke-width="0.85" />
<rect x="294.4" y="1105.7" width="78.9" height="30.7" fill="url(#pF2)" stroke="#666" stroke-width="0.85" />
<rect x="298.3" y="1110.6" width="8" height="20.6" fill="#fff" stroke="#555" stroke-width="0.85" />
<rect x="312.2" y="1110.6" width="44.2" height="20.6" fill="#fff" stroke="#555" stroke-width="0.85" />
<rect x="361.4" y="1110.6" width="8.3" height="20.6" fill="#fff" stroke="#555" stroke-width="0.85" />
<rect x="224.2" y="1112.6" width="33.5" height="16.6" fill="none" stroke="#888" stroke-width="0.85" />
<path d="M224.2 1112.6L257.7 1129.2" stroke="#999" stroke-width="0.8" fill="none"/>
<path d="M211.7 1129.2L294.4 1129.2" stroke="#999" stroke-width="0.85" fill="none"/>
<path d="M211.7 1136.4L294.4 1136.4" stroke="#999" stroke-width="0.85" fill="none"/>
<rect x="366.3" y="1136.4" width="7" height="100.9" fill="none" stroke="#999" stroke-width="0.85" />
<path d="M366.3 1389.6L366.3 1296.7L373.3 1296.7L373.3 1389.6" stroke="#999" stroke-width="0.85" fill="none"/>
<path d="M369.7 1292.4L421.2 1292.4A51.5 51.5 0 0 0 369.7 1240.9" stroke="#999" stroke-width="0.9" fill="none"/>
<g transform="translate(261.3 1187.7) rotate(0) scale(1.0)" fill="none" stroke="#888" stroke-width="0.8"><path d="M-20 -14C-30 -17 -37 -22 -39 -19L-39 19C-37 22 -30 17 -20 14C-21 5 -21 -5 -20 -14Z"/><path d="M-20 -14C-5 -20 19 -16 19.5 0C19 16 -5 20 -20 14"/><ellipse cx="-31" cy="0" rx="1.6" ry="1.1"/></g>
<g transform="translate(227.6 1267.2) rotate(0) scale(1.0)" fill="none" stroke="#888" stroke-width="0.8"><path d="M-16 -21L-2 -21C8 -21 14 -10 14 0C14 10 8 21 -2 21L-16 21"/><ellipse cx="0" cy="0" rx="9.5" ry="16.5"/><circle cx="0" cy="0" r="1.2"/></g>
<rect x="211.7" y="1330.3" width="150.1" height="59.3" fill="none" stroke="#888" stroke-width="0.85" />
<rect x="215.5" y="1334.1" width="142.5" height="51.7" rx="15" ry="15" fill="none" stroke="#999" stroke-width="0.8"/>
<circle cx="226.2" cy="1359.9" r="3" fill="none" stroke="#999" stroke-width="0.8"/>
<text x="275" y="1297.3" font-size="56" textLength="69.6" lengthAdjust="spacingAndGlyphs">4,6</text>
<path d="M275.1 1309.2L344.1 1309.2" stroke="#777" stroke-width="1" fill="none"/>
<path d="M373.3 1389.6L383.6 1389.6L383.6 1396.5L211.7 1396.5" stroke="#999" stroke-width="0.85" fill="none"/>
<path d="M211.7 1389.6L366.3 1389.6" stroke="#999" stroke-width="0.85" fill="none"/>
<path d="M473.8 1109L473.8 1049A60 60 0 0 0 413.8 1109" stroke="#999" stroke-width="0.9" fill="none"/>
<rect x="478.7" y="1105.7" width="8.1" height="6.9" fill="none" stroke="#999" stroke-width="0.85" />
<path d="M486.8 826.6L486.8 1146.6L519.6 1146.6L519.6 1140.5L492.8 1140.5L492.8 805.4" stroke="#999" stroke-width="0.85" fill="none"/>
<path d="M523.3 1143.2L523.3 1075.4A67.8 67.8 0 0 1 591.1 1143.2" stroke="#999" stroke-width="0.9" fill="none"/>
<path d="M594.4 1140.5L684.6 1140.5L684.6 1185.1L677.2 1185.1L677.2 1146.6L594.4 1146.6L594.4 1140.5" stroke="#999" stroke-width="0.85" fill="none"/>
<rect x="677.2" y="1185.1" width="108.4" height="17.4" fill="url(#pHl)" stroke="#ccc" stroke-width="0.85" />
<rect x="548.4" y="891.3" width="184" height="160" fill="none" stroke="#999" stroke-width="0.85" />
<path d="M634.4 891.3L634.4 1051.3" stroke="#999" stroke-width="0.85" fill="none"/>
<path d="M634.4 944.6L732.4 944.6" stroke="#999" stroke-width="0.85" fill="none"/>
<path d="M634.4 997.9L732.4 997.9" stroke="#999" stroke-width="0.85" fill="none"/>
<text x="635.6" y="939.9" font-size="61" textLength="96.3" lengthAdjust="spacingAndGlyphs">31,6</text>
<text x="635.6" y="993" font-size="61" textLength="96.3" lengthAdjust="spacingAndGlyphs">56,6</text>
<text x="635.6" y="1046.1" font-size="61" textLength="96.3" lengthAdjust="spacingAndGlyphs">58,2</text>
<text x="561.4" y="990.7" font-size="67">2а</text>
<text x="682.2" y="1125" font-size="56" textLength="97.1" lengthAdjust="spacingAndGlyphs">17,2</text>
<path d="M681.8 1136.1L778.3 1136.1" stroke="#777" stroke-width="1" fill="none"/>
<path d="M453.9 1392.9L453.9 1460.7A67.8 67.8 0 0 1 386.1 1392.9" stroke="#999" stroke-width="0.9" fill="none"/>
<rect x="458.5" y="1389.6" width="10.9" height="6.9" fill="none" stroke="#999" stroke-width="0.85" />
<text x="572.5" y="1305.8" font-size="56" textLength="67.4" lengthAdjust="spacingAndGlyphs">9,5</text>
<path d="M572 1318.8L640 1318.8" stroke="#777" stroke-width="1" fill="none"/>
<rect x="195.5" y="1709.6" width="16.2" height="100.5" fill="url(#pB2)" stroke="#888" stroke-width="0.85" />
<rect x="469.4" y="1337.3" width="17.4" height="102" fill="url(#pB)" stroke="#888" stroke-width="0.85" />
<rect x="469.4" y="1439.3" width="17.4" height="270.1" fill="url(#pH)" stroke="#aaa" stroke-width="0.75" />
<rect x="469.4" y="1709.4" width="17.4" height="100.7" fill="url(#pB2)" stroke="#888" stroke-width="0.85" />
<path d="M486.8 1337.4H677.6V1287.4H694.7V1337.4H794.6V1390.3H677.6V1354.6H486.8Z M694.7 1348.3V1373.4H777.3V1348.3Z" fill="url(#pHl)" fill-rule="evenodd" stroke="#ccc" stroke-width="0.9"/>
<rect x="694.7" y="1337.4" width="82.6" height="10.9" fill="url(#pF)" stroke="#a0a0a0" stroke-width="0.8" />
<text x="515.8" y="1433.3" font-size="56" textLength="96.2" lengthAdjust="spacingAndGlyphs">15,9</text>
<path d="M515.3 1445.4L611.8 1445.4" stroke="#777" stroke-width="1" fill="none"/>
<text x="702.4" y="1468.6" font-size="56" textLength="70.3" lengthAdjust="spacingAndGlyphs">5,9</text>
<path d="M703.4 1480.5L772.4 1480.5" stroke="#777" stroke-width="1" fill="none"/>
<path d="M677.6 1390.3L677.6 1504.8L694.7 1504.8L694.7 1498.3L684.6 1498.3L684.6 1390.3" stroke="#999" stroke-width="0.85" fill="none"/>
<path d="M765.4 1501.9L765.4 1569.9A68 68 0 0 1 697.4 1501.9" stroke="#999" stroke-width="0.9" fill="none"/>
<rect x="769.4" y="1498.3" width="16.2" height="101.1" fill="url(#pB)" stroke="#888" stroke-width="0.85" />
<path d="M778.7 1599.4L778.7 1789.3L785.6 1789.3L785.6 1631.5L793.6 1631.5L793.6 1624.6L785.6 1624.6L785.6 1599.4" stroke="#999" stroke-width="0.85" fill="none"/>
<rect x="512.4" y="1526.4" width="184" height="160" fill="none" stroke="#999" stroke-width="0.85" />
<path d="M598.4 1526.4L598.4 1686.4" stroke="#999" stroke-width="0.85" fill="none"/>
<path d="M598.4 1579.7L696.4 1579.7" stroke="#999" stroke-width="0.85" fill="none"/>
<path d="M598.4 1633L696.4 1633" stroke="#999" stroke-width="0.85" fill="none"/>
<text x="599.6" y="1575" font-size="61" textLength="96.3" lengthAdjust="spacingAndGlyphs">15,9</text>
<text x="599.6" y="1628.1" font-size="61" textLength="96.3" lengthAdjust="spacingAndGlyphs">35,7</text>
<text x="599.6" y="1681.2" font-size="61" textLength="96.3" lengthAdjust="spacingAndGlyphs">37,4</text>
<text x="519.7" y="1625.8" font-size="67">1а</text>
<text x="341.4" y="1757.9" font-size="56" textLength="94.1" lengthAdjust="spacingAndGlyphs">14,4</text>
<path d="M340.2 1769.4L437 1769.4" stroke="#777" stroke-width="1" fill="none"/>
<path d="M190.3 1789.3L195.5 1789.3L195.5 1810.1L211.7 1810.1L211.7 1789.3L215.7 1789.3L215.7 1823.4L190.3 1823.4Z" stroke="#858585" stroke-width="0.85" fill="url(#pX)"/>
<rect x="215.7" y="1789.3" width="48.9" height="34.1" fill="#fff" stroke="#999" stroke-width="0.85" />
<path d="M234.2 1815.9L231.3 1817.6L231.3 1814.2ZM256.4 1794.8L254.6 1797.6L253.1 1794.6ZM256.2 1801.6L256.9 1798.9L259 1800.8Z" stroke="#888" stroke-width="0.6" fill="none"/>
<path d="M262.5 1809h.7M233.9 1804.2h.7M230.1 1792.8h.7M222.3 1816.4h.7M230.5 1819.5h.7M228.9 1799.3h.7M240.6 1797h.7M234.5 1820.1h.7M257.4 1815.7h.7M246 1818.8h.7M259.9 1807.8h.7M250 1792.8h.7M250.6 1804.9h.7M251.5 1810.7h.7M230.6 1792.8h.7" stroke="#bbb" stroke-width="0.7" fill="none"/>
<path d="M264.6 1789.3L406.4 1789.3" stroke="#999" stroke-width="0.85" fill="none"/>
<rect x="264.6" y="1814.4" width="141.8" height="9" fill="#fff" stroke="#888" stroke-width="0.85" />
<path d="M271.4 1818.9L399.6 1818.9" stroke="#aaa" stroke-width="0.85" fill="none"/>
<path d="M271.4 1814.4L271.4 1823.4" stroke="#999" stroke-width="0.85" fill="none"/>
<path d="M399.6 1814.4L399.6 1823.4" stroke="#999" stroke-width="0.85" fill="none"/>
<path d="M269.6 1823.4L269.6 1833.7" stroke="#999" stroke-width="0.85" fill="none"/>
<path d="M269.6 1833.7L400.4 1833.7" stroke="#999" stroke-width="0.85" fill="none"/>
<rect x="406.4" y="1789.3" width="59" height="34.1" fill="#fff" stroke="#999" stroke-width="0.85" />
<path d="M456.9 1796.2L459.1 1794.4L459.6 1797.1ZM426.7 1812.8L424.6 1814.5L424.2 1811.9ZM442.6 1800.2L445.4 1799.7L444.4 1802.4ZM418.8 1798.9L416.2 1796.3L419.8 1795.3Z" stroke="#888" stroke-width="0.6" fill="none"/>
<path d="M435.7 1797.9h.7M458.2 1821.3h.7M433.1 1795.5h.7M419 1794h.7M427.2 1794h.7M421.6 1799.1h.7M439.7 1818h.7M449.6 1803.7h.7M431.2 1807.1h.7M429.1 1801.5h.7M411.8 1799.7h.7M461.6 1795.1h.7M436.1 1810.3h.7M455.9 1797.8h.7M423.3 1798.8h.7M430.4 1804.7h.7M460.9 1816.8h.7M456.4 1792h.7M410.2 1812.7h.7M457.7 1805.5h.7" stroke="#bbb" stroke-width="0.7" fill="none"/>
<path d="M465.4 1789.3L469.4 1789.3L469.4 1810.1L486.8 1810.1L486.8 1789.3L490.4 1789.3L490.4 1823.4L465.4 1823.4Z" stroke="#858585" stroke-width="0.85" fill="url(#pX)"/>
<rect x="490.4" y="1789.3" width="88" height="34.1" fill="#fff" stroke="#999" stroke-width="0.85" />
<path d="M539.9 1793.7L541.2 1790.2L543.5 1793.1ZM562.6 1816.1L560.6 1817.8L560.1 1815.2ZM500.4 1796.4L503.5 1795.1L503.1 1798.4ZM569.4 1811L572.6 1812.3L569.8 1814.4ZM532.8 1808.3L529.5 1809.2L530.4 1805.9ZM511.5 1816.9L514 1817.9L511.9 1819.6ZM502.6 1797.9L505.8 1799L503.3 1801.2Z" stroke="#888" stroke-width="0.6" fill="none"/>
<path d="M501.8 1793.4h.7M536.5 1808.8h.7M525 1798h.7M542.9 1791.6h.7M517.7 1805.2h.7M573 1810.7h.7M566.6 1805.6h.7M512.1 1798.7h.7M573.1 1812.5h.7M518.2 1792h.7M534.3 1811.6h.7M527.7 1799h.7M548.5 1819.1h.7M511.5 1792.3h.7M520.8 1804h.7M549.7 1797.3h.7M559.4 1813.5h.7M534.8 1797.5h.7M573.9 1800.7h.7M561.3 1798.2h.7M511 1814.2h.7M517.2 1820h.7M534 1796.9h.7M511.2 1803.9h.7M548.3 1819.9h.7M504.7 1803.1h.7M510.3 1820.6h.7M504.3 1792.9h.7M497.5 1803.1h.7M567.8 1817.9h.7M553.9 1821.3h.7M570.7 1801.2h.7M508 1819.5h.7M555.1 1792.3h.7M548.2 1802.7h.7" stroke="#bbb" stroke-width="0.7" fill="none"/>
<path d="M578.4 1789.3L741.6 1789.3" stroke="#999" stroke-width="0.85" fill="none"/>
<rect x="578.4" y="1814.4" width="102.9" height="9" fill="#fff" stroke="#888" stroke-width="0.85" />
<path d="M585 1818.9L675 1818.9" stroke="#aaa" stroke-width="0.85" fill="none"/>
<path d="M585 1814.4L585 1823.4" stroke="#999" stroke-width="0.85" fill="none"/>
<path d="M675 1814.4L675 1823.4" stroke="#999" stroke-width="0.85" fill="none"/>
<path d="M681.3 1789.3L681.3 1823.4" stroke="#aaa" stroke-width="0.85" fill="none"/>
<rect x="188.3" y="1823.4" width="81.3" height="10.3" fill="url(#pF)" stroke="#a0a0a0" stroke-width="0.8" />
<rect x="400.4" y="1823.4" width="183" height="10.3" fill="url(#pF)" stroke="#a0a0a0" stroke-width="0.8" />
<path d="M583.4 1833.7L746.5 1833.7" stroke="#999" stroke-width="0.85" fill="none"/>
<path d="M583.4 1823.4L686.7 1823.4" stroke="#999" stroke-width="0.85" fill="none"/>
<path d="M686.7 1823.4L686.7 1833.7" stroke="#999" stroke-width="0.85" fill="none"/>
<path d="M737.2 1819.4L737.2 1767.9A51.5 51.5 0 0 0 685.7 1819.4" stroke="#999" stroke-width="0.9" fill="none"/>
<rect x="741.6" y="1789.3" width="44.2" height="34.1" fill="#fff" stroke="#999" stroke-width="0.85" />
<path d="M765.6 1823.4L765.6 1806.5L785.8 1806.5" stroke="#aaa" stroke-width="0.85" fill="none"/>
<rect x="769.5" y="1810.1" width="16.3" height="101.5" fill="url(#pB)" stroke="#888" stroke-width="0.85" />
<path d="M756.5 1823.4L769.5 1823.4L769.5 1911.6L785.8 1911.6L785.8 1890.7L789.4 1890.7L789.4 1924.8L756.5 1924.8Z" stroke="#7c7c7c" stroke-width="0.85" fill="url(#pX)"/>
<path d="M735.2 1823.4L756.5 1823.4L756.5 1924.8L853.6 1924.8L853.6 1934.8L746.5 1934.8L746.5 1833.3L735.2 1833.3Z" stroke="#a0a0a0" stroke-width="0.85" fill="url(#pF)"/>
<rect x="469.4" y="1833.7" width="10.3" height="101.1" fill="none" stroke="#999" stroke-width="0.85" />
<path d="M474.6 1844L474.6 1924.4" stroke="#aaa" stroke-width="0.85" fill="none"/>
<rect x="469.4" y="1833.7" width="10.3" height="10.3" fill="none" stroke="#888" stroke-width="0.85" />
<path d="M479.7 1924.4L746.5 1924.4" stroke="#999" stroke-width="0.85" fill="none"/>
<path d="M479.7 1929.6L746.5 1929.6" stroke="#aaa" stroke-width="0.85" fill="none"/>
<path d="M469.4 1934.8L746.5 1934.8" stroke="#999" stroke-width="0.85" fill="none"/>
<rect x="469.4" y="1924.4" width="10.3" height="10.4" fill="#fff" stroke="#888" stroke-width="0.85" />
<rect x="567.4" y="1924.4" width="10.3" height="10.4" fill="#fff" stroke="#888" stroke-width="0.85" />
<rect x="655.4" y="1924.4" width="10.1" height="10.4" fill="#fff" stroke="#888" stroke-width="0.85" />
<rect x="736.2" y="1924.4" width="10.3" height="10.4" fill="#fff" stroke="#888" stroke-width="0.85" />
<text x="546.3" y="1893.7" font-size="56" textLength="154" lengthAdjust="spacingAndGlyphs">3,4/1,7</text>
<path d="M547.5 1906.6L700.6 1906.6" stroke="#777" stroke-width="1" fill="none"/>
<rect x="877.3" y="1337.3" width="348.7" height="17.1" fill="url(#pH)" stroke="#aaa" stroke-width="0.75" />
<rect x="1043.4" y="1354.4" width="17.3" height="144.1" fill="url(#pH)" stroke="#aaa" stroke-width="0.75" />
<rect x="1043.4" y="1498.5" width="17.3" height="101.5" fill="url(#pB)" stroke="#888" stroke-width="0.85" />
<rect x="1043.4" y="1600" width="17.3" height="210.4" fill="url(#pH)" stroke="#aaa" stroke-width="0.75" />
<rect x="1043.4" y="1810.4" width="17.3" height="100.7" fill="url(#pB)" stroke="#888" stroke-width="0.85" />
<rect x="886.5" y="1354.4" width="6.9" height="70.1" fill="none" stroke="#888" stroke-width="0.85" />
<rect x="886.5" y="1483.2" width="6.9" height="117.4" fill="none" stroke="#888" stroke-width="0.85" />
<rect x="893.4" y="1354.4" width="150" height="58.9" fill="none" stroke="#888" stroke-width="0.85" />
<rect x="897.2" y="1358.2" width="142.4" height="51.3" rx="15" ry="15" fill="none" stroke="#999" stroke-width="0.8"/>
<circle cx="907.9" cy="1383.8" r="3" fill="none" stroke="#999" stroke-width="0.8"/>
<circle cx="1029" cy="1383.9" r="3" fill="none" stroke="#999" stroke-width="0.8"/><circle cx="907.9" cy="1383.9" r="3" fill="none" stroke="#999" stroke-width="0.8"/>
<g transform="translate(1029.2 1460) rotate(180) scale(1.0)" fill="none" stroke="#888" stroke-width="0.8"><path d="M-16 -21L-2 -21C8 -21 14 -10 14 0C14 10 8 21 -2 21L-16 21"/><ellipse cx="0" cy="0" rx="9.5" ry="16.5"/><circle cx="0" cy="0" r="1.2"/></g>
<g transform="translate(1004.8 1541.5) rotate(180) scale(1.0)" fill="none" stroke="#888" stroke-width="0.8"><path d="M-20 -14C-30 -17 -37 -22 -39 -19L-39 19C-37 22 -30 17 -20 14C-21 5 -21 -5 -20 -14Z"/><path d="M-20 -14C-5 -20 19 -16 19.5 0C19 16 -5 20 -20 14"/><ellipse cx="-31" cy="0" rx="1.6" ry="1.1"/></g>
<path d="M889.8 1429.1L838.3 1429.1A51.5 51.5 0 0 0 889.8 1480.6" stroke="#999" stroke-width="0.9" fill="none"/>
<path d="M873.4 1346.3L873.4 1422.1A75.8 75.8 0 0 1 797.6 1346.3" stroke="#999" stroke-width="0.9" fill="none"/>
<rect x="886.5" y="1600.6" width="78.1" height="30.7" fill="url(#pF2)" stroke="#666" stroke-width="0.85" />
<rect x="890.4" y="1605.5" width="7.8" height="21.2" fill="#fff" stroke="#555" stroke-width="0.85" />
<rect x="903.7" y="1605.5" width="43.6" height="21.2" fill="#fff" stroke="#555" stroke-width="0.85" />
<rect x="952.7" y="1605.5" width="7.5" height="21.2" fill="#fff" stroke="#555" stroke-width="0.85" />
<path d="M964.6 1600.6L1043.4 1600.6" stroke="#666" stroke-width="0.85" fill="none"/>
<path d="M964.6 1607.5L1043.4 1607.5" stroke="#666" stroke-width="0.85" fill="none"/>
<path d="M964.6 1624.4L1043.4 1624.4" stroke="#666" stroke-width="0.85" fill="none"/>
<path d="M964.6 1631.3L1043.4 1631.3" stroke="#666" stroke-width="0.85" fill="none"/>
<rect x="997.3" y="1607.5" width="34.3" height="16.9" fill="none" stroke="#555" stroke-width="0.85" />
<path d="M997.3 1607.5L1031.6 1607.5L1005.9 1612.9L997.3 1624.4Z" fill="#000"/>
<path d="M1005.9 1612.9L1031.6 1624.4" stroke="#777" stroke-width="0.8" fill="none"/>
<rect x="861.5" y="1624.4" width="25" height="6.9" fill="none" stroke="#999" stroke-width="0.85" />
<path d="M897.9 1631.3V1669.5A13 13 0 0 0 910.9 1682.5H993.4V1890.6" stroke="#999" stroke-width="0.85" fill="none"/>
<path d="M943.8 1631.3L943.8 1682.5" stroke="#999" stroke-width="0.85" fill="none"/>
<path d="M993.4 1682.5L1043.4 1682.5" stroke="#999" stroke-width="0.85" fill="none"/>
<g transform="translate(978.6 1656.1) rotate(180)" fill="none" stroke="#888" stroke-width="0.8"><rect x="-29.1" y="-21.5" width="58.2" height="43" rx="3"/><rect x="-25.6" y="-18" width="51.2" height="36" rx="3"/><rect x="0" y="-16.5" width="23.6" height="33" rx="3"/><rect x="-17.5" y="-15" width="12.8" height="21.5" rx="2" fill="url(#pG)"/><path d="M-24.1 -13.5h7.6M-24.1 -8.7h7.6M-24.1 -3.8h7.6M-24.1 1h7.6M-24.1 5.8h7.6M-24.1 10.7h7.6"/><path d="M-2.3 15.5L5.8 0.9" stroke-width="2.4" stroke="#888"/><path d="M-2.3 15.5L5.8 0.9" stroke-width="1" stroke="#fff"/><circle cx="8.1" cy="12" r="2"/></g>
<rect x="993.4" y="1732" width="50" height="51.3" fill="none" stroke="#777" stroke-width="0.85" />
<rect x="997.4" y="1736" width="42" height="43.3" rx="4" fill="none" stroke="#999" stroke-width="0.8"/>
<circle cx="1008.4" cy="1747.4" r="6.3" fill="none" stroke="#777" stroke-width="0.8"/>
<circle cx="1008.4" cy="1747.4" r="3.5" fill="none" stroke="#888" stroke-width="0.8"/>
<circle cx="1008.4" cy="1767.9" r="6.3" fill="none" stroke="#777" stroke-width="0.8"/>
<circle cx="1008.4" cy="1767.9" r="3.5" fill="none" stroke="#888" stroke-width="0.8"/>
<circle cx="1028.4" cy="1747.4" r="6.3" fill="none" stroke="#777" stroke-width="0.8"/>
<circle cx="1028.4" cy="1747.4" r="3.5" fill="none" stroke="#888" stroke-width="0.8"/>
<circle cx="1028.4" cy="1767.9" r="6.3" fill="none" stroke="#777" stroke-width="0.8"/>
<circle cx="1028.4" cy="1767.9" r="3.5" fill="none" stroke="#888" stroke-width="0.8"/>
<path d="M800.5 1628.7L800.5 1687.5A58.8 58.8 0 0 0 859.3 1628.7" stroke="#999" stroke-width="0.9" fill="none"/>
<rect x="1209.7" y="1354.4" width="6.9" height="70.1" fill="none" stroke="#888" stroke-width="0.85" />
<rect x="1209.7" y="1483.2" width="6.9" height="117.4" fill="none" stroke="#888" stroke-width="0.85" />
<rect x="1059.7" y="1354.4" width="150" height="58.9" fill="none" stroke="#888" stroke-width="0.85" />
<rect x="1063.5" y="1358.2" width="142.4" height="51.3" rx="15" ry="15" fill="none" stroke="#999" stroke-width="0.8"/>
<circle cx="1074.2" cy="1383.8" r="3" fill="none" stroke="#999" stroke-width="0.8"/>
<circle cx="1074.1" cy="1383.9" r="3" fill="none" stroke="#999" stroke-width="0.8"/><circle cx="1195.2" cy="1383.9" r="3" fill="none" stroke="#999" stroke-width="0.8"/>
<g transform="translate(1073.9 1460) rotate(0) scale(1.0)" fill="none" stroke="#888" stroke-width="0.8"><path d="M-16 -21L-2 -21C8 -21 14 -10 14 0C14 10 8 21 -2 21L-16 21"/><ellipse cx="0" cy="0" rx="9.5" ry="16.5"/><circle cx="0" cy="0" r="1.2"/></g>
<g transform="translate(1098.3 1541.5) rotate(0) scale(1.0)" fill="none" stroke="#888" stroke-width="0.8"><path d="M-20 -14C-30 -17 -37 -22 -39 -19L-39 19C-37 22 -30 17 -20 14C-21 5 -21 -5 -20 -14Z"/><path d="M-20 -14C-5 -20 19 -16 19.5 0C19 16 -5 20 -20 14"/><ellipse cx="-31" cy="0" rx="1.6" ry="1.1"/></g>
<path d="M1213.3 1429.1L1264.8 1429.1A51.5 51.5 0 0 1 1213.3 1480.6" stroke="#999" stroke-width="0.9" fill="none"/>
<path d="M1229.7 1346.3L1229.7 1422.1A75.8 75.8 0 0 0 1305.5 1346.3" stroke="#999" stroke-width="0.9" fill="none"/>
<rect x="1138.5" y="1600.6" width="78.1" height="30.7" fill="url(#pF2)" stroke="#666" stroke-width="0.85" />
<rect x="1204.9" y="1605.5" width="7.8" height="21.2" fill="#fff" stroke="#555" stroke-width="0.85" />
<rect x="1155.8" y="1605.5" width="43.6" height="21.2" fill="#fff" stroke="#555" stroke-width="0.85" />
<rect x="1142.9" y="1605.5" width="7.5" height="21.2" fill="#fff" stroke="#555" stroke-width="0.85" />
<path d="M1138.5 1600.6L1059.7 1600.6" stroke="#666" stroke-width="0.85" fill="none"/>
<path d="M1138.5 1607.5L1059.7 1607.5" stroke="#666" stroke-width="0.85" fill="none"/>
<path d="M1138.5 1624.4L1059.7 1624.4" stroke="#666" stroke-width="0.85" fill="none"/>
<path d="M1138.5 1631.3L1059.7 1631.3" stroke="#666" stroke-width="0.85" fill="none"/>
<rect x="1071.5" y="1607.5" width="34.3" height="16.9" fill="none" stroke="#555" stroke-width="0.85" />
<path d="M1105.8 1607.5L1071.5 1607.5L1097.2 1612.9L1105.8 1624.4Z" fill="#000"/>
<path d="M1097.2 1612.9L1071.5 1624.4" stroke="#777" stroke-width="0.8" fill="none"/>
<rect x="1216.6" y="1624.4" width="25" height="6.9" fill="none" stroke="#999" stroke-width="0.85" />
<path d="M1205.2 1631.3V1669.5A13 13 0 0 1 1192.2 1682.5H1109.7V1890.6" stroke="#999" stroke-width="0.85" fill="none"/>
<path d="M1159.3 1631.3L1159.3 1682.5" stroke="#999" stroke-width="0.85" fill="none"/>
<path d="M1109.7 1682.5L1059.7 1682.5" stroke="#999" stroke-width="0.85" fill="none"/>
<g transform="translate(1124.5 1656.1) rotate(0)" fill="none" stroke="#888" stroke-width="0.8"><rect x="-29.1" y="-21.5" width="58.2" height="43" rx="3"/><rect x="-25.6" y="-18" width="51.2" height="36" rx="3"/><rect x="0" y="-16.5" width="23.6" height="33" rx="3"/><rect x="-17.5" y="-15" width="12.8" height="21.5" rx="2" fill="url(#pG)"/><path d="M-24.1 -13.5h7.6M-24.1 -8.7h7.6M-24.1 -3.8h7.6M-24.1 1h7.6M-24.1 5.8h7.6M-24.1 10.7h7.6"/><path d="M-2.3 15.5L5.8 0.9" stroke-width="2.4" stroke="#888"/><path d="M-2.3 15.5L5.8 0.9" stroke-width="1" stroke="#fff"/><circle cx="8.1" cy="12" r="2"/></g>
<rect x="1059.7" y="1732" width="50" height="51.3" fill="none" stroke="#777" stroke-width="0.85" />
<rect x="1063.7" y="1736" width="42" height="43.3" rx="4" fill="none" stroke="#999" stroke-width="0.8"/>
<circle cx="1074.7" cy="1747.4" r="6.2" fill="none" stroke="#777" stroke-width="0.8"/>
<circle cx="1074.7" cy="1747.4" r="3.5" fill="none" stroke="#888" stroke-width="0.8"/>
<circle cx="1074.7" cy="1767.9" r="6.2" fill="none" stroke="#777" stroke-width="0.8"/>
<circle cx="1074.7" cy="1767.9" r="3.5" fill="none" stroke="#888" stroke-width="0.8"/>
<circle cx="1094.7" cy="1747.4" r="6.2" fill="none" stroke="#777" stroke-width="0.8"/>
<circle cx="1094.7" cy="1747.4" r="3.5" fill="none" stroke="#888" stroke-width="0.8"/>
<circle cx="1094.7" cy="1767.9" r="6.2" fill="none" stroke="#777" stroke-width="0.8"/>
<circle cx="1094.7" cy="1767.9" r="3.5" fill="none" stroke="#888" stroke-width="0.8"/>
<path d="M1302.6 1628.7L1302.6 1687.5A58.8 58.8 0 0 1 1243.8 1628.7" stroke="#999" stroke-width="0.9" fill="none"/>
<text x="906.6" y="1493.5" font-size="56" textLength="69.3" lengthAdjust="spacingAndGlyphs">4,4</text>
<path d="M907.1 1505.4L976.4 1505.4" stroke="#777" stroke-width="1" fill="none"/>
<text x="1117.7" y="1493.5" font-size="56" textLength="69.3" lengthAdjust="spacingAndGlyphs">4,4</text>
<path d="M1118 1505.4L1187.4 1505.4" stroke="#777" stroke-width="1" fill="none"/>
<text x="906.8" y="1746" font-size="56" textLength="67.2" lengthAdjust="spacingAndGlyphs">9,5</text>
<path d="M906.2 1758.2L975.2 1758.2" stroke="#777" stroke-width="1" fill="none"/>
<text x="1128" y="1738.7" font-size="56" textLength="67.4" lengthAdjust="spacingAndGlyphs">9,5</text>
<path d="M1127.5 1750.9L1196.9 1750.9" stroke="#777" stroke-width="1" fill="none"/>
<rect x="788.9" y="1890.7" width="59.4" height="34.1" fill="#fff" stroke="#999" stroke-width="0.85" />
<path d="M812.5 1904.2L810.6 1903L812.5 1901.9ZM808.2 1903.2L806.5 1904.9L805.8 1902.6ZM842.1 1901.1L842.6 1897.6L845.4 1899.8ZM837.4 1906.4L834.5 1907L835.4 1904.2Z" stroke="#888" stroke-width="0.6" fill="none"/>
<path d="M811.5 1920.4h.7M801.6 1903.7h.7M840.6 1893.6h.7M813.7 1917.1h.7M833.4 1893.9h.7M792.8 1894.6h.7M841.9 1900.4h.7M832.3 1919.7h.7M809.7 1900.9h.7M844 1911.3h.7M805.4 1914.3h.7M808.4 1901h.7M791.1 1915.4h.7M841.7 1911.8h.7M843.2 1893.4h.7M803.9 1907h.7M843.9 1921.4h.7M812.3 1900.3h.7M814.7 1907.6h.7M842.3 1898.2h.7" stroke="#bbb" stroke-width="0.7" fill="none"/>
<path d="M848.3 1890.7L990.4 1890.7" stroke="#999" stroke-width="0.85" fill="none"/>
<rect x="848.3" y="1916.5" width="142.1" height="8.3" fill="#fff" stroke="#888" stroke-width="0.85" />
<path d="M855 1920.6L984 1920.6" stroke="#aaa" stroke-width="0.85" fill="none"/>
<path d="M855 1916.5L855 1924.8" stroke="#999" stroke-width="0.85" fill="none"/>
<path d="M984 1916.5L984 1924.8" stroke="#999" stroke-width="0.85" fill="none"/>
<path d="M853.6 1934.8L984.5 1934.8" stroke="#999" stroke-width="0.85" fill="none"/>
<rect x="990.4" y="1890.7" width="48.6" height="34.1" fill="#fff" stroke="#999" stroke-width="0.85" />
<path d="M1028.5 1912.7L1028.7 1916.1L1025.6 1914.6ZM1018.6 1904.4L1018.3 1901.6L1020.9 1902.8ZM1027.4 1897.8L1024.8 1895.5L1028 1894.4Z" stroke="#888" stroke-width="0.6" fill="none"/>
<path d="M1003.4 1894.6h.7M993.9 1909.3h.7M1006.9 1922.2h.7M1031.8 1922.4h.7M1004.2 1895.2h.7M996.7 1907.7h.7M1024.1 1906.2h.7M1002.8 1905.2h.7M1020.1 1913h.7M1025.8 1918.2h.7M1022 1896.3h.7M1029.9 1901.5h.7M1017.7 1903.9h.7M1025.3 1898.7h.7M1003.4 1900.1h.7" stroke="#bbb" stroke-width="0.7" fill="none"/>
<path d="M1039 1890.7L1043.4 1890.7L1043.4 1911.1L1060.7 1911.1L1060.7 1890.7L1064.4 1890.7L1064.4 1924.8L1039 1924.8Z" stroke="#858585" stroke-width="0.85" fill="url(#pX)"/>
<rect x="1064.4" y="1890.7" width="48.9" height="34.1" fill="#fff" stroke="#999" stroke-width="0.85" />
<path d="M1072.6 1917.8L1075.3 1917.7L1074 1920.1ZM1082.9 1921.5L1085.2 1920.3L1085.1 1922.9ZM1103.5 1912L1101.5 1913.3L1101.3 1910.9Z" stroke="#888" stroke-width="0.6" fill="none"/>
<path d="M1087.7 1917.4h.7M1104.1 1920.2h.7M1068.2 1901.5h.7M1071.8 1898.4h.7M1110.1 1910.3h.7M1108.2 1903.9h.7M1105.3 1906.2h.7M1078.1 1916.1h.7M1108.9 1895.9h.7M1093.2 1911.4h.7M1076.2 1903.8h.7M1072.7 1898.8h.7M1077.8 1910.7h.7M1095.7 1898.8h.7M1066.9 1902.6h.7" stroke="#bbb" stroke-width="0.7" fill="none"/>
<path d="M1113.3 1890.7L1255.4 1890.7" stroke="#999" stroke-width="0.85" fill="none"/>
<rect x="1113.3" y="1916.5" width="142.1" height="8.3" fill="#fff" stroke="#888" stroke-width="0.85" />
<path d="M1120 1920.6L1249 1920.6" stroke="#aaa" stroke-width="0.85" fill="none"/>
<path d="M1120 1916.5L1120 1924.8" stroke="#999" stroke-width="0.85" fill="none"/>
<path d="M1249 1916.5L1249 1924.8" stroke="#999" stroke-width="0.85" fill="none"/>
<path d="M1119.3 1934.8L1249.7 1934.8" stroke="#999" stroke-width="0.85" fill="none"/>
<rect x="1255.4" y="1890.7" width="58.4" height="34.1" fill="#fff" stroke="#999" stroke-width="0.85" />
<path d="M1293.4 1900.3L1293 1897.7L1295.4 1898.7ZM1301.4 1909.6L1299 1909.9L1299.9 1907.7ZM1278.2 1908.1L1280.5 1908.9L1278.6 1910.5ZM1265.7 1914.1L1266.9 1911.7L1268.4 1914Z" stroke="#888" stroke-width="0.6" fill="none"/>
<path d="M1274.1 1921.4h.7M1274.4 1909.8h.7M1276.8 1905.2h.7M1304.4 1922.7h.7M1277.2 1898.6h.7M1297 1898.8h.7M1257.7 1919.8h.7M1280.5 1917.4h.7M1279.5 1919.3h.7M1282.5 1897.6h.7M1258.2 1909.3h.7M1292.3 1920.1h.7M1262.2 1911.4h.7M1277.6 1907.9h.7M1265.3 1901.2h.7M1285.8 1920.6h.7M1263.3 1907.5h.7M1301.2 1921.8h.7M1268.1 1896.5h.7M1308.7 1922.1h.7" stroke="#bbb" stroke-width="0.7" fill="none"/>
<rect x="984.5" y="1924.8" width="134.8" height="10" fill="url(#pF)" stroke="#a0a0a0" stroke-width="0.8" />
<rect x="1328.4" y="683.4" width="282.3" height="291.1" fill="#ffe58c" stroke="none" stroke-width="0.85" />
<rect x="1617.5" y="582" width="307.8" height="466" fill="#ffe58c" stroke="none" stroke-width="0.85" />
<rect x="1349.3" y="981.4" width="123.2" height="82.1" fill="#ffe58c" stroke="none" stroke-width="0.85" />
<rect x="1328.6" y="1062.9" width="143.9" height="77.3" fill="#ffe58c" stroke="none" stroke-width="0.85" />
<rect x="1479.5" y="981.4" width="122" height="69.2" fill="#ffe58c" stroke="none" stroke-width="0.85" />
<rect x="1479.5" y="1044" width="548.9" height="141.5" fill="#ffe58c" stroke="none" stroke-width="0.85" />
<rect x="1932.5" y="662.3" width="338.2" height="204.1" fill="#ffe58c" stroke="none" stroke-width="0.85" />
<rect x="1942.2" y="582" width="328.5" height="80.3" fill="#ffe58c" stroke="none" stroke-width="0.85" />
<rect x="1932.5" y="866" width="95.9" height="184" fill="#ffe58c" stroke="none" stroke-width="0.85" />
<rect x="2035.5" y="897.5" width="224.1" height="146.9" fill="#ffe58c" stroke="none" stroke-width="0.85" />
<rect x="2107" y="866.4" width="159" height="59.3" fill="#ffe58c" stroke="none" stroke-width="0.85" />
<rect x="2035.5" y="1050.2" width="335" height="286.8" fill="#ffe58c" stroke="none" stroke-width="0.85" />
<rect x="2313.5" y="548.4" width="89.3" height="462" fill="#ffe58c" stroke="none" stroke-width="0.85" />
<rect x="2270.7" y="790.6" width="43" height="59.4" fill="#ffe58c" stroke="none" stroke-width="0.85" />
<rect x="1479.5" y="974.5" width="96.7" height="7.2" fill="#ffe58c" stroke="none" stroke-width="0.85" />
<rect x="1472.5" y="1025.3" width="7" height="59.4" fill="#ffe58c" stroke="none" stroke-width="0.85" />
<rect x="2028.4" y="950.5" width="7.1" height="59.7" fill="#ffe58c" stroke="none" stroke-width="0.85" />
<rect x="2028.4" y="1067.4" width="7.1" height="76.4" fill="#ffe58c" stroke="none" stroke-width="0.85" />
<rect x="1330.4" y="639.4" width="74.1" height="10.3" fill="url(#pF)" stroke="#a0a0a0" stroke-width="0.8" />
<rect x="1535.6" y="639.4" width="52.9" height="10.3" fill="url(#pF)" stroke="#a0a0a0" stroke-width="0.8" />
<path d="M1340.5 639L1340.5 639.4" stroke="#999" stroke-width="0.85" fill="none"/>
<path d="M1318.4 649.2L1330.3 649.2L1330.3 649.7L1318.4 649.7Z" stroke="#888" stroke-width="0.85" fill="url(#pX)"/>
<rect x="1318.3" y="649.7" width="81.3" height="33.7" fill="#fff" stroke="#999" stroke-width="0.85" />
<path d="M1359.1 653.4L1357.6 655.8L1356.3 653.3ZM1390 668.6L1390.2 671.1L1387.9 670ZM1378.8 660L1380.3 656.8L1382.3 659.7ZM1384.1 659.4L1382.2 657.2L1385 656.7ZM1361.4 664.4L1358.8 663.7L1360.7 661.8ZM1377.6 678L1374.6 678.8L1375.4 675.8Z" stroke="#888" stroke-width="0.6" fill="none"/>
<path d="M1378.9 652.8h.7M1385.1 655.2h.7M1366.6 668h.7M1368.8 660.8h.7M1352.8 669h.7M1353.2 671.3h.7M1354.8 664.7h.7M1322.1 670.1h.7M1358.1 658.7h.7M1379.3 674.9h.7M1355.7 657h.7M1356.9 654.9h.7M1330.2 664.5h.7M1327.4 664.8h.7M1359.7 652.9h.7M1369.5 654.1h.7M1377 674.8h.7M1359.8 653.3h.7M1359.3 662.9h.7M1393.8 655.7h.7M1386.6 681.3h.7M1376.9 675.9h.7M1335.3 680.9h.7M1358.3 680.1h.7M1391.1 656.6h.7M1381.2 679.3h.7M1325.4 662.1h.7M1378.8 656.4h.7M1389.6 659.9h.7M1383.3 656h.7" stroke="#bbb" stroke-width="0.7" fill="none"/>
<path d="M1399.6 683.4L1540.3 683.4" stroke="#999" stroke-width="0.85" fill="none"/>
<path d="M1404.5 639.4L1535.6 639.4" stroke="#aaa" stroke-width="0.85" fill="none"/>
<rect x="1399.6" y="649.7" width="140.7" height="8.6" fill="#fff" stroke="#888" stroke-width="0.85" />
<path d="M1406 654L1534 654" stroke="#aaa" stroke-width="0.85" fill="none"/>
<path d="M1406 649.7L1406 658.3" stroke="#999" stroke-width="0.85" fill="none"/>
<path d="M1534 649.7L1534 658.3" stroke="#999" stroke-width="0.85" fill="none"/>
<rect x="1540.3" y="649.7" width="70.4" height="33.7" fill="#fff" stroke="#999" stroke-width="0.85" />
<path d="M1576 679.7L1574.2 677.8L1576.7 677.1ZM1577.3 661.9L1574.9 662.6L1575.5 660.1ZM1552.8 676.7L1555.8 678.8L1552.5 680.4ZM1555.5 675.6L1552.5 675L1554.5 672.7ZM1585.5 661.4L1584.8 664.4L1582.5 662.2Z" stroke="#888" stroke-width="0.6" fill="none"/>
<path d="M1580.8 677.9h.7M1549.2 681.2h.7M1584.1 663.4h.7M1595.3 659.6h.7M1608.1 668.8h.7M1566.2 674.4h.7M1571.7 656.9h.7M1591.7 653.1h.7M1596.7 659.2h.7M1584.7 680.9h.7M1581.2 671.4h.7M1563.1 651.8h.7M1544.5 656.1h.7M1583.2 664.5h.7M1576.3 678.3h.7M1551.1 658.4h.7M1585.7 652.4h.7M1542.5 662.2h.7M1549.4 662.3h.7M1557.2 669h.7M1581.4 657.8h.7M1583.7 665.8h.7M1551.2 679.5h.7M1558.5 656.1h.7M1548.7 670.7h.7" stroke="#bbb" stroke-width="0.7" fill="none"/>
<path d="M1340.7 649.2L1340.7 639.4" stroke="#999" stroke-width="0.85" fill="none"/>
<path d="M1578.6 538.4L1578.6 639.4" stroke="#999" stroke-width="0.85" fill="none"/>
<rect x="1578.4" y="538.4" width="128.9" height="10.3" fill="url(#pF)" stroke="#a0a0a0" stroke-width="0.8" />
<rect x="1578.4" y="548.7" width="9.9" height="101.1" fill="url(#pF)" stroke="#a0a0a0" stroke-width="0.8" />
<path d="M1588.3 548.7L1621 548.7L1621 582L1617.5 582L1617.5 560.6L1601.2 560.6L1601.2 649.8L1588.3 649.8Z" stroke="#7c7c7c" stroke-width="0.85" fill="url(#pX)"/>
<rect x="1601.2" y="560.6" width="16.3" height="101.7" fill="url(#pB)" stroke="#888" stroke-width="0.85" />
<rect x="1621" y="548.7" width="81.3" height="33.3" fill="#fff" stroke="#999" stroke-width="0.85" />
<path d="M1688.4 573.9L1689.5 571.5L1691 573.7ZM1623.4 568.7L1626.1 568.3L1625.1 570.9ZM1674.4 563.1L1672.4 565.8L1671.1 562.6ZM1644.4 576.9L1641.4 577.6L1642.3 574.6ZM1656.4 558.9L1653 559.4L1654.3 556.2ZM1626.3 566.2L1624.7 568.2L1623.8 565.9Z" stroke="#888" stroke-width="0.6" fill="none"/>
<path d="M1638.4 568.5h.7M1662.2 569.5h.7M1685.9 555.8h.7M1646.9 559.5h.7M1626.7 576.8h.7M1683.5 571.7h.7M1623.5 575.4h.7M1680.6 564.3h.7M1680.3 564h.7M1640.5 553.8h.7M1641 551.8h.7M1648.9 572.7h.7M1676.7 575.5h.7M1678 558.5h.7M1665.8 563.5h.7M1683.9 566h.7M1643.5 569.5h.7M1697.6 557.1h.7M1691 551.1h.7M1643.1 557.6h.7M1680.5 578.4h.7M1680.7 560.3h.7M1691 560.3h.7M1641.5 577.3h.7M1671.8 571h.7M1674.4 579.4h.7M1659.3 575.3h.7M1676.9 575.8h.7M1656.8 571.9h.7M1667.1 559.7h.7" stroke="#bbb" stroke-width="0.7" fill="none"/>
<path d="M1702.3 582L1843.4 582" stroke="#999" stroke-width="0.85" fill="none"/>
<path d="M1707.3 538.4L1838.5 538.4" stroke="#aaa" stroke-width="0.85" fill="none"/>
<rect x="1702.3" y="548.7" width="141.1" height="8" fill="#fff" stroke="#888" stroke-width="0.85" />
<path d="M1709 552.7L1837 552.7" stroke="#aaa" stroke-width="0.85" fill="none"/>
<path d="M1709 548.7L1709 556.7" stroke="#999" stroke-width="0.85" fill="none"/>
<path d="M1837 548.7L1837 556.7" stroke="#999" stroke-width="0.85" fill="none"/>
<rect x="1702.3" y="556.7" width="141.1" height="25.3" fill="#fff" stroke="#999" stroke-width="0.85" />
<rect x="1843.4" y="548.7" width="77.9" height="33.3" fill="#fff" stroke="#999" stroke-width="0.85" />
<path d="M1863.5 569.7L1859.8 569.8L1861.6 566.6ZM1858.5 553.8L1854.8 553.2L1857.1 550.3ZM1872.5 555.8L1870.3 556.6L1870.7 554.3ZM1895.6 567.2L1898.1 569.4L1894.9 570.5ZM1849.8 569.4L1850.5 565.9L1853.1 568.2ZM1907.2 576.9L1903.6 577.3L1905.1 574Z" stroke="#888" stroke-width="0.6" fill="none"/>
<path d="M1913 578.4h.7M1853.3 556.7h.7M1853.7 551.7h.7M1908 574.5h.7M1892.3 574.9h.7M1892.1 559.1h.7M1852.8 553.6h.7M1901.4 556.7h.7M1869 563.1h.7M1846.9 558.2h.7M1866.3 571.7h.7M1872.6 560.1h.7M1916.6 565.5h.7M1908.3 568.8h.7M1847.7 562.8h.7M1877.7 573.3h.7M1871 571.3h.7M1885.1 557h.7M1909.1 553.4h.7M1906 555.7h.7M1845.5 556.6h.7M1901.7 579.4h.7M1845.7 565.1h.7M1881.7 574h.7M1859 565.2h.7M1871.1 575.1h.7M1864.7 578.4h.7M1866.4 557h.7M1897.1 565.3h.7M1853.5 569.4h.7" stroke="#bbb" stroke-width="0.7" fill="none"/>
<rect x="1838.5" y="538.4" width="475.2" height="10.3" fill="url(#pF)" stroke="#a0a0a0" stroke-width="0.8" />
<path d="M1921.3 548.7L1946.4 548.7L1946.4 582L1942.2 582L1942.2 560.6L1925.3 560.6L1925.3 582L1921.3 582Z" stroke="#7c7c7c" stroke-width="0.85" fill="url(#pX)"/>
<rect x="1925.3" y="560.6" width="16.9" height="101.7" fill="url(#pB)" stroke="#888" stroke-width="0.85" />
<rect x="1946.4" y="548.7" width="324.3" height="33.3" fill="#fff" stroke="#999" stroke-width="0.85" />
<path d="M1974.5 571.3L1977.1 573.6L1973.8 574.7ZM2147.9 562.4L2149.1 559.8L2150.8 562.1ZM2233.8 553.2L2233.1 555.4L2231.6 553.6ZM2016.4 557.9L2015.2 560.6L2013.4 558.2ZM2070.3 577.5L2068.6 575.1L2071.5 574.8ZM2118.6 570.4L2120.2 573.3L2116.9 573.2ZM2061.5 562.3L2058.3 560.8L2061.2 558.8ZM2161 573.4L2158.5 571.9L2161 570.5ZM2196.8 568.7L2193.9 567.9L2196 565.9ZM2231.7 559.7L2229.6 558L2232.1 557ZM2174 575.9L2171.8 574.8L2173.8 573.4ZM2026.8 560.4L2029.1 559.5L2028.7 562ZM2055.8 556.6L2053.1 558.7L2052.6 555.4ZM1983.1 579L1980.3 578.6L1982 576.3ZM2262.4 571.7L2264.1 574.1L2261.2 574.4ZM2013 570L2010.5 569.7L2012.1 567.6ZM2071.4 553.8L2072.8 550.6L2074.9 553.4ZM2169 564.1L2171.8 565L2169.6 567ZM1992.9 569.3L1994.4 566.2L1996.3 569ZM2236.7 562.6L2240.1 562.4L2238.5 565.4ZM2083.1 555.9L2085.4 558.7L2081.9 559.3ZM2196.9 569.3L2196.5 572.6L2193.9 570.6ZM2152.9 565.8L2152.5 562.6L2155.5 563.9ZM1980.9 561.3L1982 564.4L1978.7 563.8ZM2148.3 559.3L2149.9 556.8L2151.3 559.4Z" stroke="#888" stroke-width="0.6" fill="none"/>
<path d="M2147.5 562.7h.7M2164.7 578h.7M2007 569.9h.7M2197.7 562.1h.7M2105.3 579.3h.7M1960.6 566.6h.7M1999.9 573.6h.7M2249.7 565.9h.7M1980.8 567.5h.7M2121.7 571.7h.7M2112.5 569.4h.7M2213.9 566h.7M2079.8 578.5h.7M2015.7 570.8h.7M2074.1 573h.7M1987.6 579.5h.7M2062.3 552.4h.7M2036.3 562.4h.7M1952.7 563h.7M2083.1 571.2h.7M2061.2 558.5h.7M2020.3 572.4h.7M2249.5 566.1h.7M2018.5 574.2h.7M2073.9 556.9h.7M1989.8 573.5h.7M2207.7 569.3h.7M2098.7 567.2h.7M2020.8 578.9h.7M2061.5 569.4h.7M2210.6 574.6h.7M2098.3 559.3h.7M2124 554.4h.7M2215.4 561.1h.7M2220.9 558.5h.7M2068.9 558.1h.7M2084.9 556.1h.7M1949.3 571.8h.7M2038.5 557.9h.7M2045.1 564.8h.7M2085.6 569.4h.7M2159.6 561.3h.7M2245.9 575.7h.7M1966.7 575h.7M2238.5 573.7h.7M1993.4 575.1h.7M2151.2 551.1h.7M1952.1 578.6h.7M2158.5 558h.7M1980.9 554.9h.7M2023.2 573.4h.7M2059.4 555.2h.7M2238 573.9h.7M2002.2 576.8h.7M2143.3 573.6h.7M2162.5 576.9h.7M2200.8 575.3h.7M2011.6 571h.7M2118.4 572.4h.7M2088.9 576.6h.7M2126.2 558.4h.7M2023.4 554.8h.7M2106.3 552.4h.7M2098 554.9h.7M2105.8 565.3h.7M2121.2 576h.7M1950.5 575.3h.7M2098.3 567.2h.7M2161.5 575.3h.7M2068.5 563h.7M2256.1 552.9h.7M2152.4 569.3h.7M1957.5 568.6h.7M2167 578h.7M2054.2 579.5h.7M2112 564.9h.7M2235.9 551.7h.7M2178.4 569h.7M2056.9 575.9h.7M2065.7 564.6h.7M2116.7 573.3h.7M2015.9 563.5h.7M2083.7 566.9h.7M2213.2 559.3h.7M2213.5 562.5h.7M2109.8 558.7h.7M2110.6 579.3h.7M2158.1 573.9h.7M2054.4 560h.7M2044.2 567.9h.7M2151.7 573.7h.7M1961.2 571.9h.7M2232.1 566.7h.7M1964.3 559.5h.7M1950.4 556.3h.7M2243.5 568.5h.7M2159.2 573.8h.7M2239.8 568.6h.7M2145.9 569.1h.7M2171.5 568.2h.7M2166.5 556.9h.7M2162 564.1h.7M2192.7 553.7h.7M2006.5 551.8h.7M2196.5 577.5h.7M2158.4 561.5h.7M2211.9 573.7h.7M2128.4 558.3h.7M2045.1 563.1h.7M2050.4 563.3h.7M2154 578.1h.7M1965.9 567.3h.7M1961 554.2h.7M2207.9 567.6h.7M2242.6 563.8h.7M1952.9 562h.7M2138 578.2h.7M2262.5 564.6h.7M2080.5 553.7h.7M2154.8 556.9h.7M1997 551.2h.7M1949.9 570.7h.7M1987.4 579h.7M1976.6 576.2h.7M1989.7 551.2h.7" stroke="#bbb" stroke-width="0.7" fill="none"/>
<path d="M2270.7 548.7L2304.4 548.7L2304.4 666.3L2291.5 666.3L2291.5 560.6L2274.2 560.6L2274.2 582L2270.7 582Z" stroke="#7c7c7c" stroke-width="0.85" fill="url(#pX)"/>
<rect x="2274.2" y="560.6" width="17.3" height="101.7" fill="url(#pB)" stroke="#888" stroke-width="0.85" />
<rect x="2270.7" y="582" width="3.5" height="80.3" fill="#fff" stroke="none" stroke-width="0.85" />
<rect x="2304.4" y="548.7" width="9.3" height="142.8" fill="url(#pF)" stroke="#a0a0a0" stroke-width="0.8" />
<rect x="2270.7" y="666.3" width="33.7" height="19.2" fill="#fff" stroke="#999" stroke-width="0.85" />
<path d="M2293.5 671L2295 673.1L2292.4 673.4Z" stroke="#888" stroke-width="0.6" fill="none"/>
<path d="M2274.2 680.1h.7M2293.9 681.3h.7M2294.4 669.6h.7M2291.4 679.1h.7M2286.4 682.5h.7" stroke="#bbb" stroke-width="0.7" fill="none"/>
<rect x="2270.7" y="662.3" width="20.8" height="4" fill="#fff" stroke="#999" stroke-width="0.85" />
<rect x="2270.7" y="685.5" width="33.7" height="105.1" fill="#fff" stroke="#999" stroke-width="0.85" />
<path d="M2295.4 685.5L2295.4 790.6" stroke="#aaa" stroke-width="0.85" fill="none"/>
<path d="M2299.4 691.5L2299.4 784" stroke="#aaa" stroke-width="0.85" fill="none"/>
<rect x="2304.4" y="691.5" width="9.3" height="103.6" fill="#fff" stroke="#999" stroke-width="0.85" />
<path d="M2299.4 846.1L2248.4 846.1A51 51 0 0 1 2299.4 795.1" stroke="#999" stroke-width="0.9" fill="none"/>
<path d="M2270.7 790.6L2270.7 860" stroke="#b5a361" stroke-width="0.8" fill="none"/>
<path d="M2313.7 538L2413.5 538" stroke="#999" stroke-width="0.85" fill="none"/>
<path d="M2323.6 543.2L2402.8 543.2" stroke="#aaa" stroke-width="0.85" fill="none"/>
<path d="M2313.7 548.4L2402.8 548.4" stroke="#999" stroke-width="0.85" fill="none"/>
<rect x="2313.5" y="538" width="10.1" height="10.4" fill="#fff" stroke="#888" stroke-width="0.85" />
<rect x="2402.8" y="538" width="10.7" height="472.4" fill="#fff" stroke="#999" stroke-width="0.85" />
<path d="M2407.1 548.4L2407.1 1000" stroke="#aaa" stroke-width="0.85" fill="none"/>
<rect x="2402.8" y="538" width="10.7" height="10.2" fill="#fff" stroke="#888" stroke-width="0.85" />
<rect x="2402.8" y="600.2" width="10.7" height="10.2" fill="#fff" stroke="#888" stroke-width="0.85" />
<rect x="2402.8" y="668.5" width="10.7" height="10.2" fill="#fff" stroke="#888" stroke-width="0.85" />
<rect x="2402.8" y="735.6" width="10.7" height="10.2" fill="#fff" stroke="#888" stroke-width="0.85" />
<rect x="2402.8" y="803" width="10.7" height="10.2" fill="#fff" stroke="#888" stroke-width="0.85" />
<rect x="2402.8" y="870.7" width="10.7" height="10.2" fill="#fff" stroke="#888" stroke-width="0.85" />
<rect x="2402.8" y="938" width="10.7" height="10.2" fill="#fff" stroke="#888" stroke-width="0.85" />
<rect x="2402.8" y="1000.3" width="10.7" height="10.2" fill="#fff" stroke="#888" stroke-width="0.85" />
<text x="2324.4" y="972" font-size="56" textLength="155.1" lengthAdjust="spacingAndGlyphs">5,9/2,9</text>
<path d="M2325.9 983.2L2480 983.2" stroke="#777" stroke-width="1" fill="none"/>
<rect x="1677.3" y="637.3" width="184" height="160" fill="none" stroke="#a89a5a" stroke-width="0.85" />
<path d="M1763.3 637.3L1763.3 797.3" stroke="#a89a5a" stroke-width="0.85" fill="none"/>
<path d="M1763.3 690.6L1861.3 690.6" stroke="#a89a5a" stroke-width="0.85" fill="none"/>
<path d="M1763.3 743.9L1861.3 743.9" stroke="#a89a5a" stroke-width="0.85" fill="none"/>
<text x="1764.5" y="685.9" font-size="61" textLength="96.3" lengthAdjust="spacingAndGlyphs">47,2</text>
<text x="1764.5" y="739" font-size="61" textLength="96.3" lengthAdjust="spacingAndGlyphs">80,3</text>
<text x="1764.5" y="792.1" font-size="61" textLength="96.3" lengthAdjust="spacingAndGlyphs">83,2</text>
<text x="1690.6" y="736.7" font-size="67">3а</text>
<text x="1409.9" y="890" font-size="56" textLength="91.5" lengthAdjust="spacingAndGlyphs">12,1</text>
<path d="M1408.5 902.5L1505.2 902.5" stroke="#9b8c58" stroke-width="1" fill="none"/>
<text x="2126.9" y="821.3" font-size="56" textLength="92.8" lengthAdjust="spacingAndGlyphs">13,3</text>
<path d="M2125 833.6L2222.1 833.6" stroke="#9b8c58" stroke-width="1" fill="none"/>
<text x="1642" y="1017" font-size="56" textLength="98.8" lengthAdjust="spacingAndGlyphs">20,2</text>
<path d="M1644 1029.4L1740.4 1029.4" stroke="#9b8c58" stroke-width="1" fill="none"/>
<rect x="1318.3" y="683.4" width="10.1" height="291.5" fill="#fff" stroke="none" stroke-width="0.85" />
<path d="M1322.9 683.4L1322.9 974.9" stroke="#999" stroke-width="0.85" fill="none"/>
<path d="M1328.4 715.5L1379.4 715.5L1379.4 924.4" stroke="#a3935a" stroke-width="0.8" fill="none"/>
<rect x="1328.4" y="822.6" width="51" height="50.7" fill="none" stroke="#777" stroke-width="0.85" />
<rect x="1332.4" y="826.6" width="43" height="42.7" rx="4" fill="none" stroke="#999" stroke-width="0.8"/>
<circle cx="1343.7" cy="837.8" r="6.3" fill="none" stroke="#777" stroke-width="0.8"/>
<circle cx="1343.7" cy="837.8" r="3.5" fill="none" stroke="#888" stroke-width="0.8"/>
<circle cx="1343.7" cy="858.1" r="6.3" fill="none" stroke="#777" stroke-width="0.8"/>
<circle cx="1343.7" cy="858.1" r="3.5" fill="none" stroke="#888" stroke-width="0.8"/>
<circle cx="1364.1" cy="837.8" r="6.3" fill="none" stroke="#777" stroke-width="0.8"/>
<circle cx="1364.1" cy="837.8" r="3.5" fill="none" stroke="#888" stroke-width="0.8"/>
<circle cx="1364.1" cy="858.1" r="6.3" fill="none" stroke="#777" stroke-width="0.8"/>
<circle cx="1364.1" cy="858.1" r="3.5" fill="none" stroke="#888" stroke-width="0.8"/>
<path d="M1328.4 924.4H1460.5A14 14 0 0 1 1474.5 938.4V974.9" stroke="#a3935a" stroke-width="0.8" fill="none"/>
<path d="M1428.5 924.4L1428.5 974.9" stroke="#a3935a" stroke-width="0.8" fill="none"/>
<g transform="translate(1394.5 950.8) rotate(0)" fill="none" stroke="#888" stroke-width="0.8"><rect x="-29" y="-22.1" width="58.1" height="44.2" rx="3"/><rect x="-25.5" y="-18.6" width="51.1" height="37.2" rx="3"/><rect x="0" y="-17.1" width="23.5" height="34.2" rx="3"/><rect x="-17.4" y="-15.6" width="12.8" height="22.1" rx="2" fill="url(#pG)"/><path d="M-24 -14.1h7.6M-24 -9.1h7.6M-24 -4h7.6M-24 1h7.6M-24 6h7.6M-24 11.1h7.6"/><path d="M-2.3 16.1L5.8 0.9" stroke-width="2.4" stroke="#888"/><path d="M-2.3 16.1L5.8 0.9" stroke-width="1" stroke="#fff"/><circle cx="8.1" cy="12.4" r="2"/></g>
<rect x="1318.3" y="974.9" width="83.3" height="6.8" fill="#fff" stroke="#999" stroke-width="0.85" />
<rect x="1479.5" y="974.9" width="29.3" height="6.8" fill="#fff" stroke="#999" stroke-width="0.85" />
<rect x="1576.2" y="974.9" width="25.2" height="6.8" fill="#fff" stroke="#999" stroke-width="0.85" />
<rect x="1401.6" y="974.9" width="77.9" height="31.1" fill="url(#pF2)" stroke="#666" stroke-width="0.85" />
<rect x="1404.7" y="979.7" width="8.8" height="20.8" fill="#fff" stroke="#555" stroke-width="0.85" />
<rect x="1418" y="979.7" width="44.6" height="20.8" fill="#fff" stroke="#555" stroke-width="0.85" />
<rect x="1467.6" y="979.7" width="7.9" height="20.8" fill="#fff" stroke="#555" stroke-width="0.85" />
<path d="M1571.6 978.3L1571.6 918.8A59.5 59.5 0 0 0 1512.1 978.3" stroke="#a3935a" stroke-width="0.9" fill="none"/>
<rect x="1610.7" y="662.3" width="6.9" height="287.1" fill="#fff" stroke="#999" stroke-width="0.85" />
<rect x="1601.4" y="949.2" width="16.2" height="101.4" fill="url(#pB)" stroke="#888" stroke-width="0.85" />
<rect x="1617.6" y="1044.5" width="182.9" height="6.1" fill="#fff" stroke="#999" stroke-width="0.85" />
<rect x="1875.4" y="1044.5" width="50.2" height="6.1" fill="#fff" stroke="#999" stroke-width="0.85" />
<path d="M1871.5 1047.8L1871.5 978.4A69.4 69.4 0 0 0 1802.1 1047.8" stroke="#a3935a" stroke-width="0.9" fill="none"/>
<rect x="1925.6" y="949.5" width="16.6" height="101.1" fill="url(#pB)" stroke="#888" stroke-width="0.85" />
<rect x="1925.4" y="662.3" width="7" height="287.2" fill="#fff" stroke="#999" stroke-width="0.85" />
<rect x="1932.4" y="860.1" width="8.4" height="6.2" fill="#fff" stroke="#999" stroke-width="0.85" />
<path d="M1318.3 981.7H1349.2V1063.5H1328.4V1140.4H1318.3Z" fill="#fff" stroke="none"/>
<path d="M1343.7 981.7L1343.7 1056.4" stroke="#999" stroke-width="0.85" fill="none"/>
<path d="M1349.2 981.7L1349.2 1063.5L1328.4 1063.5" stroke="#999" stroke-width="0.85" fill="none"/>
<path d="M1343.7 1056.4L1322.9 1056.4L1322.9 1140.4" stroke="#999" stroke-width="0.85" fill="none"/>
<rect x="1326.5" y="1022.5" width="16.8" height="33.7" fill="none" stroke="#888" stroke-width="0.85" />
<path d="M1326.5 1022.5L1343.3 1056.2" stroke="#999" stroke-width="0.8" fill="none"/>
<g transform="translate(1363.5 1018.9) rotate(0) scale(1.0)" fill="none" stroke="#888" stroke-width="0.8"><path d="M-16 -21L-2 -21C8 -21 14 -10 14 0C14 10 8 21 -2 21L-16 21"/><ellipse cx="0" cy="0" rx="9.5" ry="16.5"/><circle cx="0" cy="0" r="1.2"/></g>
<g transform="translate(1367.5 1101.8) rotate(0) scale(1.0)" fill="none" stroke="#888" stroke-width="0.8"><path d="M-20 -14C-30 -17 -37 -22 -39 -19L-39 19C-37 22 -30 17 -20 14C-21 5 -21 -5 -20 -14Z"/><path d="M-20 -14C-5 -20 19 -16 19.5 0C19 16 -5 20 -20 14"/><ellipse cx="-31" cy="0" rx="1.6" ry="1.1"/></g>
<rect x="1472.5" y="1006" width="7" height="19.3" fill="#fff" stroke="#999" stroke-width="0.85" />
<rect x="1472.5" y="1084.7" width="7" height="55.7" fill="#fff" stroke="#999" stroke-width="0.85" />
<path d="M1476.1 1029.4L1527.1 1029.4A51 51 0 0 1 1476.1 1080.4" stroke="#a3935a" stroke-width="0.9" fill="none"/>
<text x="1394.2" y="1074" font-size="56" textLength="71.4" lengthAdjust="spacingAndGlyphs">2,2</text>
<path d="M1395.6 1085.7L1464.2 1085.7" stroke="#9b8c58" stroke-width="1" fill="none"/>
<path d="M1318.3 1140.4H1479.5V1185.8H1500.7V1202.7H1462.6V1157.7H1318.3Z" fill="url(#pH)" stroke="#999" stroke-width="0.9"/>
<rect x="1318.5" y="1157.7" width="144.1" height="34.7" fill="none" stroke="#999" stroke-width="0.85" />
<rect x="1318.5" y="1192.4" width="144.1" height="10.3" fill="url(#pF)" stroke="#a0a0a0" stroke-width="0.8" />
<path d="M1504.2 1193.4L1504.2 1117.4A76 76 0 0 1 1580.2 1193.4" stroke="#999" stroke-width="0.9" fill="none"/>
<rect x="1584.3" y="1185.6" width="451.1" height="16.8" fill="url(#pH)" stroke="#aaa" stroke-width="0.75" />
<rect x="2028.4" y="897.2" width="7" height="53.3" fill="#fff" stroke="#999" stroke-width="0.85" />
<rect x="2028.4" y="1010.2" width="7" height="57.2" fill="#fff" stroke="#999" stroke-width="0.85" />
<rect x="2028.4" y="1143.8" width="7" height="41.7" fill="#fff" stroke="#999" stroke-width="0.85" />
<path d="M2032 954.1L1980 954.1A52 52 0 0 0 2032 1006.1" stroke="#a3935a" stroke-width="0.9" fill="none"/>
<path d="M2032 1071.4L2100 1071.4A68 68 0 0 1 2032 1139.4" stroke="#a3935a" stroke-width="0.9" fill="none"/>
<rect x="2015.2" y="860.3" width="255.1" height="6" fill="#fff" stroke="#999" stroke-width="0.85" />
<rect x="2028.4" y="866.3" width="78.5" height="30.9" fill="url(#pF2)" stroke="#666" stroke-width="0.85" />
<rect x="2032.4" y="871.4" width="7.9" height="20.8" fill="#fff" stroke="#555" stroke-width="0.85" />
<rect x="2045.3" y="871.4" width="44.2" height="20.8" fill="#fff" stroke="#555" stroke-width="0.85" />
<rect x="2094.4" y="871.4" width="8.6" height="20.8" fill="#fff" stroke="#555" stroke-width="0.85" />
<path d="M1944 862L1944 794A68 68 0 0 1 2012 862" stroke="#a3935a" stroke-width="0.9" fill="none"/>
<rect x="2110.5" y="866.4" width="149.1" height="59.2" fill="none" stroke="#a3935a" stroke-width="0.9"/>
<rect x="2114.1" y="870.1" width="142.1" height="51.6" rx="15" fill="none" stroke="#a3935a" stroke-width="0.8"/><circle cx="2245.3" cy="896.1" r="3" fill="none" stroke="#a3935a" stroke-width="0.8"/>
<g transform="translate(2245.3 953.6) rotate(180) scale(1.0)" fill="none" stroke="#888" stroke-width="0.8"><path d="M-16 -21L-2 -21C8 -21 14 -10 14 0C14 10 8 21 -2 21L-16 21"/><ellipse cx="0" cy="0" rx="9.5" ry="16.5"/><circle cx="0" cy="0" r="1.2"/></g>
<path d="M2235.8 981.1H2259.6V1044.4H2235.8Z" fill="#fff" stroke="#999" stroke-width="0.9"/>
<rect x="2242.4" y="987.3" width="17.2" height="22.8" fill="none" stroke="#888" stroke-width="0.85" />
<rect x="2242.4" y="1010.1" width="17.2" height="34.1" fill="none" stroke="#888" stroke-width="0.85" />
<path d="M2242.4 1010.1L2259.6 1044.2" stroke="#999" stroke-width="0.8" fill="none"/>
<g transform="translate(2196.8 1012) rotate(180) scale(1.0)" fill="none" stroke="#888" stroke-width="0.8"><path d="M-20 -14C-30 -17 -37 -22 -39 -19L-39 19C-37 22 -30 17 -20 14C-21 5 -21 -5 -20 -14Z"/><path d="M-20 -14C-5 -20 19 -16 19.5 0C19 16 -5 20 -20 14"/><ellipse cx="-31" cy="0" rx="1.6" ry="1.1"/></g>
<rect x="2035.4" y="1044.4" width="239.1" height="6.1" fill="#fff" stroke="#999" stroke-width="0.85" />
<rect x="2259.6" y="866.3" width="10.7" height="178.1" fill="#fff" stroke="none" stroke-width="0.85" />
<path d="M2266.1 866.3L2266.1 1044.4" stroke="#999" stroke-width="0.85" fill="none"/>
<path d="M2259.6 866.3L2259.6 981" stroke="#999" stroke-width="0.85" fill="none"/>
<text x="2077.1" y="998" font-size="56" textLength="68.8" lengthAdjust="spacingAndGlyphs">4,7</text>
<path d="M2077.8 1010.1L2146.8 1010.1" stroke="#9b8c58" stroke-width="1" fill="none"/>
<text x="1883.6" y="1156.2" font-size="56" textLength="93" lengthAdjust="spacingAndGlyphs">14,1</text>
<path d="M1882.8 1168.1L1979.9 1168.1" stroke="#9b8c58" stroke-width="1" fill="none"/>
<text x="2208" y="1303" font-size="56" textLength="94.5" lengthAdjust="spacingAndGlyphs">13,7</text>
<path d="M2206.4 1314.3L2302.9 1314.3" stroke="#9b8c58" stroke-width="1" fill="none"/>
<rect x="2270.1" y="851.5" width="34.1" height="182.1" fill="#fff" stroke="#999" stroke-width="0.85" />
<path d="M2280 1023L2281.5 1024.7L2279.3 1025.2ZM2274.1 967.8L2274.3 970.2L2272.1 969.2ZM2282.9 984.7L2279.8 983L2282.9 981.2ZM2285.5 866.4L2286.2 863.3L2288.5 865.4ZM2286.7 975.3L2283.4 974L2286.2 971.8ZM2282.2 966.8L2284.9 967.7L2282.8 969.7ZM2285.8 992.3L2283.6 994.9L2282.4 991.7ZM2291 906.8L2287.3 907.3L2288.7 903.8ZM2292 1001.8L2291.9 998.6L2294.7 1000.2ZM2299.3 1000L2302 1000.3L2300.4 1002.5ZM2283.8 1012.2L2284.7 1009L2287 1011.4ZM2290.6 1010.8L2291 1013.5L2288.5 1012.6ZM2271.5 901.7L2273.2 899L2274.7 901.8ZM2298 1011.3L2294.6 1012.2L2295.5 1008.8Z" stroke="#888" stroke-width="0.6" fill="none"/>
<path d="M2296.5 1007.9h.7M2289.3 902.3h.7M2297.7 997.2h.7M2292.7 1016.2h.7M2282.5 868.6h.7M2288.8 995.5h.7M2278.1 987.1h.7M2300.1 895.2h.7M2290.4 974.2h.7M2286.1 890.3h.7M2279.8 987.3h.7M2295.9 935.4h.7M2274.7 997.2h.7M2295.3 895h.7M2289.5 1013.2h.7M2298.7 946.4h.7M2286.4 958.5h.7M2277.8 887.8h.7M2277.5 978.4h.7M2283 954h.7M2284.2 945.6h.7M2276.6 861.4h.7M2302.1 920.1h.7M2275.3 966.2h.7M2295.8 881.3h.7M2290.1 914.9h.7M2287.7 857.2h.7M2273.1 1029.9h.7M2298.2 940.1h.7M2289.2 900.1h.7M2295.6 929.4h.7M2300.6 990.1h.7M2296.7 1025.1h.7M2279.7 860.2h.7M2278.1 885.7h.7M2274.6 862.6h.7M2288.9 1008.6h.7M2285.9 1022.2h.7M2299.5 864.9h.7M2290.1 924.3h.7M2275.7 1024.4h.7M2279.8 954h.7M2291.4 1023.8h.7M2292.3 923.5h.7M2285.6 881.9h.7M2301.2 1030.1h.7M2278.8 860.4h.7M2279.8 916.2h.7M2299.3 1014.6h.7M2297.3 861.9h.7M2295.8 979.9h.7M2291.6 1029h.7M2273.8 879.3h.7M2294.8 1020.8h.7M2292.5 906.7h.7M2289.9 988.5h.7M2275.3 911.2h.7M2279.8 875.6h.7M2286.6 883.5h.7M2279.3 879h.7M2292.5 855.7h.7M2293.7 888.2h.7M2273.2 1018.7h.7M2278.7 1019.8h.7M2298.2 1011.8h.7M2276.3 933.2h.7M2275 1018.9h.7M2297.5 965.4h.7M2285.7 914h.7M2296.9 938.5h.7" stroke="#bbb" stroke-width="0.7" fill="none"/>
<rect x="2304.2" y="845.6" width="9.5" height="165.9" fill="url(#pF)" stroke="#a0a0a0" stroke-width="0.8" />
<path d="M2304.2 1011.5L2413.8 1011.5L2413.8 1207L2403.9 1207L2403.9 1021.4L2304.2 1021.4Z" stroke="#a0a0a0" stroke-width="0.85" fill="url(#pF)"/>
<path d="M2304.2 1021.4L2403.9 1021.4L2403.9 1054.1L2391 1054.1L2391 1033.6L2304.2 1033.6Z" stroke="#7c7c7c" stroke-width="0.85" fill="url(#pX)"/>
<rect x="2274.5" y="1033.9" width="116.5" height="16.6" fill="url(#pB)" stroke="#888" stroke-width="0.85" />
<rect x="2370.6" y="1054.1" width="33.3" height="147.9" fill="#fff" stroke="#999" stroke-width="0.85" />
<path d="M2391 1078.7L2389.5 1076.9L2391.8 1076.5ZM2394.4 1137.3L2391 1135.9L2393.9 1133.7ZM2381.7 1116.8L2379.3 1115.6L2381.5 1114.1ZM2397.4 1106.1L2394.8 1104.6L2397.4 1103.1ZM2383.9 1186.7L2380.2 1186L2382.7 1183.1ZM2374.4 1182.8L2376.6 1184.1L2374.4 1185.4ZM2386.6 1099.2L2385.4 1096.9L2388 1097ZM2385.7 1197.7L2382.5 1199.6L2382.4 1195.9ZM2377.3 1097.3L2376.4 1099.5L2375 1097.7ZM2394.7 1098.6L2392.9 1100L2392.6 1097.7ZM2396.5 1106.5L2394.3 1105.7L2396.1 1104.3Z" stroke="#888" stroke-width="0.6" fill="none"/>
<path d="M2397 1131.9h.7M2378 1118.7h.7M2399.3 1087.5h.7M2389.3 1076h.7M2377.9 1167h.7M2393.5 1084.4h.7M2374.9 1068.7h.7M2390.4 1127.4h.7M2380.6 1085.7h.7M2390.5 1157.9h.7M2396.4 1140h.7M2378.5 1065.6h.7M2394.1 1114.8h.7M2393.7 1064.1h.7M2396.4 1104.3h.7M2397.3 1180.5h.7M2387 1058.3h.7M2399.3 1124.7h.7M2398.2 1094.4h.7M2378.1 1175.8h.7M2383.4 1079.6h.7M2383.5 1141.7h.7M2372.7 1130.9h.7M2385.7 1130.3h.7M2376.1 1158.9h.7M2396.5 1180.6h.7M2382 1158.4h.7M2383.8 1164.2h.7M2374.4 1181.7h.7M2400.6 1127.3h.7M2387.6 1132.4h.7M2388.3 1059.1h.7M2400.9 1088.3h.7M2377.9 1070.9h.7M2379.9 1173.7h.7M2373.5 1070h.7M2393.1 1084.2h.7M2373.1 1142.4h.7M2389.5 1131.3h.7M2393.2 1070.9h.7M2398.1 1159.3h.7M2373.9 1073.8h.7M2387.1 1128.2h.7M2380.8 1073.7h.7M2384.5 1075.8h.7M2389.9 1180h.7M2376.9 1138.5h.7M2394.5 1079.7h.7M2396.8 1191h.7M2384 1116.6h.7M2397.2 1131.7h.7M2384.2 1191.6h.7M2395.4 1104.8h.7M2379.6 1104.3h.7M2385.4 1197.3h.7" stroke="#bbb" stroke-width="0.7" fill="none"/>
<path d="M2370.6 1202L2370.6 1337" stroke="#999" stroke-width="0.85" fill="none"/>
<rect x="2394.7" y="1207" width="8.1" height="160.6" fill="none" stroke="#999" stroke-width="0.85" />
<path d="M2398.7 1207L2398.7 1357.5" stroke="#aaa" stroke-width="0.85" fill="none"/>
<path d="M2413.6 1207L2413.6 1377.3" stroke="#999" stroke-width="0.85" fill="none"/>
<path d="M2403.9 1202L2403.9 1207" stroke="#999" stroke-width="0.85" fill="none"/>
<rect x="2394.7" y="1357.5" width="8.1" height="10.1" fill="none" stroke="#888" stroke-width="0.85" />
<path d="M2323.3 1358.3L2394.7 1358.3" stroke="#999" stroke-width="0.85" fill="none"/>
<path d="M2328.3 1362.9L2394.7 1362.9" stroke="#aaa" stroke-width="0.85" fill="none"/>
<path d="M2323.3 1367.4L2402.8 1367.4" stroke="#999" stroke-width="0.85" fill="none"/>
<path d="M2328.3 1377.3L2413.6 1377.3" stroke="#999" stroke-width="0.85" fill="none"/>
<rect x="2308.3" y="1333.8" width="62.3" height="3.4" fill="#fff" stroke="none" stroke-width="0.85" />
<path d="M2308.3 1337L2370.6 1337" stroke="#999" stroke-width="0.85" fill="none"/>
<rect x="2323.3" y="1358.3" width="6.3" height="9.1" fill="none" stroke="#888" stroke-width="0.85" />
<path d="M2018.5 1202.3H2035.3V1337.1H2204.2V1354.6H2018.5Z" fill="url(#pH)" stroke="#999" stroke-width="0.9"/>
<rect x="2204.2" y="1337.1" width="100.3" height="17.5" fill="url(#pB)" stroke="#888" stroke-width="0.85" />
<rect x="2304.5" y="1337.1" width="18.8" height="17.5" fill="url(#pHs)" stroke="#888" stroke-width="0.85" />
<rect x="1309.6" y="1337.5" width="307.7" height="17.1" fill="url(#pH)" stroke="#aaa" stroke-width="0.75" />
<rect x="1617.3" y="1337.5" width="17.2" height="101.7" fill="url(#pB)" stroke="#888" stroke-width="0.85" />
<rect x="1617.3" y="1439.2" width="17.2" height="270.6" fill="url(#pH)" stroke="#aaa" stroke-width="0.75" />
<rect x="1617.3" y="1709.8" width="17.2" height="99.9" fill="url(#pB)" stroke="#888" stroke-width="0.85" />
<rect x="1590.2" y="1202.5" width="27.1" height="27.7" fill="none" stroke="#999" stroke-width="0.85" />
<rect x="1596.4" y="1206.4" width="17.4" height="17.3" fill="none" stroke="#777" stroke-width="0.85" />
<path d="M1596.4 1206.4L1613.8 1223.7" stroke="#999" stroke-width="0.8" fill="none"/>
<rect x="1617.3" y="1202.4" width="17.2" height="50.8" fill="url(#pH)" stroke="#aaa" stroke-width="0.75" />
<path d="M1626 1257.5L1702 1257.5A76 76 0 0 1 1626 1333.5" stroke="#999" stroke-width="0.9" fill="none"/>
<path d="M1418.6 1354.6L1418.6 1498.3L1409.5 1498.3L1409.5 1504.6L1424.6 1504.6L1424.6 1354.6" stroke="#999" stroke-width="0.85" fill="none"/>
<path d="M1339.3 1501.3L1339.3 1569.3A68 68 0 0 0 1407.3 1501.3" stroke="#999" stroke-width="0.9" fill="none"/>
<rect x="1318.3" y="1498.3" width="16.5" height="101.1" fill="url(#pB)" stroke="#888" stroke-width="0.85" />
<path d="M1324.9 1599.4L1324.9 1789.3L1318.3 1789.3L1318.3 1631.1L1309.6 1631.1L1309.6 1624.2L1318.3 1624.2L1318.3 1599.4" stroke="#999" stroke-width="0.85" fill="none"/>
<text x="1333.6" y="1449.4" font-size="56" textLength="69.8" lengthAdjust="spacingAndGlyphs">5,9</text>
<path d="M1334.4 1461.3L1403.4 1461.3" stroke="#777" stroke-width="1" fill="none"/>
<text x="1509.4" y="1417.4" font-size="56" textLength="95.1" lengthAdjust="spacingAndGlyphs">15,9</text>
<path d="M1507.8 1429.5L1604.4 1429.5" stroke="#777" stroke-width="1" fill="none"/>
<rect x="1407.5" y="1526.4" width="184" height="160" fill="none" stroke="#999" stroke-width="0.85" />
<path d="M1493.5 1526.4L1493.5 1686.4" stroke="#999" stroke-width="0.85" fill="none"/>
<path d="M1493.5 1579.7L1591.5 1579.7" stroke="#999" stroke-width="0.85" fill="none"/>
<path d="M1493.5 1633L1591.5 1633" stroke="#999" stroke-width="0.85" fill="none"/>
<text x="1494.7" y="1575" font-size="61" textLength="96.3" lengthAdjust="spacingAndGlyphs">15,9</text>
<text x="1494.7" y="1628.1" font-size="61" textLength="96.3" lengthAdjust="spacingAndGlyphs">35,7</text>
<text x="1494.7" y="1681.2" font-size="61" textLength="96.3" lengthAdjust="spacingAndGlyphs">37,4</text>
<text x="1414.8" y="1625.8" font-size="67">1а</text>
<rect x="1318.2" y="1810.4" width="16.5" height="100.7" fill="url(#pB)" stroke="#888" stroke-width="0.85" />
<rect x="1318.2" y="1789.3" width="43.9" height="34.1" fill="#fff" stroke="#999" stroke-width="0.85" />
<path d="M1318.2 1806.5L1338.4 1806.5L1338.4 1823.4" stroke="#aaa" stroke-width="0.85" fill="none"/>
<path d="M1334.7 1823.4L1347.9 1823.4L1347.9 1924.8L1313.8 1924.8L1313.8 1890.7L1318.2 1890.7L1318.2 1911.1L1334.7 1911.1Z" stroke="#7c7c7c" stroke-width="0.85" fill="url(#pX)"/>
<path d="M1347.9 1823.4L1368.4 1823.4L1368.4 1833.3L1357.2 1833.3L1357.2 1934.8L1249.7 1934.8L1249.7 1924.8L1347.9 1924.8Z" stroke="#a0a0a0" stroke-width="0.85" fill="url(#pF)"/>
<path d="M1366.1 1819.4L1366.1 1767.9A51.5 51.5 0 0 1 1417.6 1819.4" stroke="#999" stroke-width="0.9" fill="none"/>
<path d="M1362.1 1789.3L1525.3 1789.3" stroke="#999" stroke-width="0.85" fill="none"/>
<path d="M1422.2 1789.3L1422.2 1823.4" stroke="#aaa" stroke-width="0.85" fill="none"/>
<rect x="1422.2" y="1814.4" width="103.1" height="9" fill="#fff" stroke="#888" stroke-width="0.85" />
<path d="M1428.5 1818.9L1519 1818.9" stroke="#aaa" stroke-width="0.85" fill="none"/>
<path d="M1428.5 1814.4L1428.5 1823.4" stroke="#999" stroke-width="0.85" fill="none"/>
<path d="M1519 1814.4L1519 1823.4" stroke="#999" stroke-width="0.85" fill="none"/>
<path d="M1417.3 1823.4L1520.7 1823.4" stroke="#999" stroke-width="0.85" fill="none"/>
<path d="M1417.3 1823.4L1417.3 1833.5" stroke="#999" stroke-width="0.85" fill="none"/>
<path d="M1357.2 1833.5L1520.7 1833.5" stroke="#999" stroke-width="0.85" fill="none"/>
<rect x="1525.3" y="1789.3" width="87.9" height="34.1" fill="#fff" stroke="#999" stroke-width="0.85" />
<path d="M1595 1816.1L1595.4 1819.6L1592.1 1818.2ZM1534.8 1806.3L1532.1 1808.9L1531.2 1805.3ZM1547.6 1803L1550.3 1803.8L1548.2 1805.7ZM1570.2 1795L1571.9 1792.5L1573.2 1795.3ZM1532 1795.8L1529.4 1798.1L1528.7 1794.7ZM1605.8 1808.1L1606.3 1811.7L1603 1810.4ZM1599.8 1792.1L1602.3 1793L1600.2 1794.7Z" stroke="#888" stroke-width="0.6" fill="none"/>
<path d="M1584.2 1799.5h.7M1572.8 1819.1h.7M1579.4 1798.8h.7M1571 1804.4h.7M1607.1 1800h.7M1552.9 1810.8h.7M1537.4 1809.2h.7M1607.5 1806.8h.7M1549.8 1805.3h.7M1572.1 1795.8h.7M1537.7 1795.3h.7M1551.9 1803.5h.7M1551.5 1798.6h.7M1534.7 1807.7h.7M1597.8 1809.7h.7M1575.1 1810.9h.7M1544.2 1812.7h.7M1566 1807.8h.7M1578.7 1805.4h.7M1553.4 1798.6h.7M1545.9 1806.7h.7M1559.4 1808.9h.7M1528.3 1801.9h.7M1599.6 1798.5h.7M1574 1806.1h.7M1551.2 1821h.7M1552.1 1814.5h.7M1540.6 1793.3h.7M1600.4 1804.5h.7M1532.5 1803h.7M1564.2 1813.4h.7M1536.5 1798.1h.7M1607.8 1813.5h.7M1540.3 1801.4h.7M1556.9 1811.6h.7" stroke="#bbb" stroke-width="0.7" fill="none"/>
<path d="M1613.2 1789.3L1617.3 1789.3L1617.3 1809.7L1634.5 1809.7L1634.5 1789.3L1637.6 1789.3L1637.6 1823.4L1613.2 1823.4Z" stroke="#858585" stroke-width="0.85" fill="url(#pX)"/>
<rect x="1520.7" y="1823.4" width="182.3" height="10.1" fill="url(#pF)" stroke="#a0a0a0" stroke-width="0.8" />
<rect x="1624.7" y="1833.5" width="9.9" height="101.3" fill="none" stroke="#999" stroke-width="0.85" />
<path d="M1629.6 1844L1629.6 1924.4" stroke="#aaa" stroke-width="0.85" fill="none"/>
<rect x="1624.7" y="1833.5" width="9.9" height="10.2" fill="none" stroke="#888" stroke-width="0.85" />
<path d="M1357.2 1924.4L1624.7 1924.4" stroke="#999" stroke-width="0.85" fill="none"/>
<path d="M1367.1 1929.6L1624.7 1929.6" stroke="#aaa" stroke-width="0.85" fill="none"/>
<path d="M1357.2 1934.8L1634.6 1934.8" stroke="#999" stroke-width="0.85" fill="none"/>
<rect x="1357.2" y="1924.4" width="9.9" height="10.4" fill="#fff" stroke="#888" stroke-width="0.85" />
<rect x="1437.1" y="1924.4" width="9.9" height="10.4" fill="#fff" stroke="#888" stroke-width="0.85" />
<rect x="1525.6" y="1924.4" width="9.9" height="10.4" fill="#fff" stroke="#888" stroke-width="0.85" />
<rect x="1624.7" y="1924.4" width="9.9" height="10.4" fill="#fff" stroke="#888" stroke-width="0.85" />
<text x="1423.9" y="1901.2" font-size="56" textLength="152.7" lengthAdjust="spacingAndGlyphs">3,4/1,7</text>
<path d="M1424.9 1912.3L1577.5 1912.3" stroke="#777" stroke-width="1" fill="none"/>
<rect x="1634.5" y="1437.3" width="150.1" height="7.1" fill="none" stroke="#999" stroke-width="0.85" />
<rect x="1858.5" y="1437.3" width="83.8" height="7.1" fill="none" stroke="#999" stroke-width="0.85" />
<path d="M1788.1 1440.8L1788.1 1508.6A67.8 67.8 0 0 0 1855.9 1440.8" stroke="#999" stroke-width="0.9" fill="none"/>
<text x="1653.6" y="1411.5" font-size="56" textLength="71.2" lengthAdjust="spacingAndGlyphs">7,0</text>
<path d="M1654.9 1423.4L1724.3 1423.4" stroke="#777" stroke-width="1" fill="none"/>
<rect x="1686.4" y="1536.2" width="184" height="160" fill="none" stroke="#999" stroke-width="0.85" />
<path d="M1772.4 1536.2L1772.4 1696.2" stroke="#999" stroke-width="0.85" fill="none"/>
<path d="M1772.4 1589.5L1870.4 1589.5" stroke="#999" stroke-width="0.85" fill="none"/>
<path d="M1772.4 1642.8L1870.4 1642.8" stroke="#999" stroke-width="0.85" fill="none"/>
<text x="1773.6" y="1584.8" font-size="61" textLength="96.3" lengthAdjust="spacingAndGlyphs">14,5</text>
<text x="1773.6" y="1637.9" font-size="61" textLength="96.3" lengthAdjust="spacingAndGlyphs">37,4</text>
<text x="1773.6" y="1691" font-size="61" textLength="96.3" lengthAdjust="spacingAndGlyphs">39,1</text>
<text x="1693.7" y="1635.6" font-size="67">1б</text>
<text x="1805.2" y="1770" font-size="56" textLength="94.1" lengthAdjust="spacingAndGlyphs">14,5</text>
<path d="M1803.8 1782.3L1899.6 1782.3" stroke="#777" stroke-width="1" fill="none"/>
<rect x="1637.6" y="1789.3" width="60.5" height="34.1" fill="#fff" stroke="#999" stroke-width="0.85" />
<path d="M1674.9 1814.6L1675.2 1817.6L1672.4 1816.3ZM1681 1811.5L1682.3 1814.1L1679.3 1814ZM1684.6 1811.5L1683.4 1813.6L1682.1 1811.5ZM1688.2 1790.6L1689.5 1793.5L1686.4 1793.2Z" stroke="#888" stroke-width="0.6" fill="none"/>
<path d="M1667.7 1820.3h.7M1671.9 1803.9h.7M1683.9 1817.6h.7M1673.9 1802.7h.7M1665.2 1805.1h.7M1680.5 1800.1h.7M1661.7 1808h.7M1661.3 1801h.7M1684.1 1816.9h.7M1667.8 1804.7h.7M1650 1800.5h.7M1647.8 1808.6h.7M1672.5 1793.9h.7M1691.6 1801h.7M1687.3 1816.5h.7M1693.8 1797.4h.7M1663.7 1818.7h.7M1640.2 1792.7h.7M1671.5 1806.3h.7M1691.6 1814.6h.7" stroke="#bbb" stroke-width="0.7" fill="none"/>
<path d="M1698.1 1789.3L1839.1 1789.3" stroke="#999" stroke-width="0.85" fill="none"/>
<rect x="1698.1" y="1814.4" width="141" height="9" fill="#fff" stroke="#888" stroke-width="0.85" />
<path d="M1704.5 1818.9L1833 1818.9" stroke="#aaa" stroke-width="0.85" fill="none"/>
<path d="M1704.5 1814.4L1704.5 1823.4" stroke="#999" stroke-width="0.85" fill="none"/>
<path d="M1833 1814.4L1833 1823.4" stroke="#999" stroke-width="0.85" fill="none"/>
<path d="M1703 1833.5L1833.5 1833.5" stroke="#999" stroke-width="0.85" fill="none"/>
<rect x="1839.1" y="1789.3" width="57.2" height="34.1" fill="#fff" stroke="#999" stroke-width="0.85" />
<path d="M1867.9 1820.2L1870.7 1818.9L1870.4 1822ZM1876 1804.7L1876.5 1801.5L1879 1803.5ZM1859.3 1817.4L1861.8 1819L1859.1 1820.4ZM1845.7 1803.9L1847 1801L1848.8 1803.6Z" stroke="#888" stroke-width="0.6" fill="none"/>
<path d="M1871.6 1817.8h.7M1892.4 1806h.7M1864.5 1810.1h.7M1894.1 1801.6h.7M1869.3 1815.9h.7M1850.2 1800.9h.7M1893.2 1816.2h.7M1868.4 1794.6h.7M1888.7 1812.1h.7M1884.8 1821.1h.7M1888.3 1804h.7M1849.4 1800h.7M1868.3 1806.5h.7M1851.1 1796.8h.7M1874.6 1809.5h.7M1859.9 1821.2h.7M1875 1792.6h.7M1863 1815h.7M1857.4 1812.1h.7M1841.3 1800.5h.7" stroke="#bbb" stroke-width="0.7" fill="none"/>
<path d="M1782.2 1202.4L1782.2 1361.5L1855.5 1361.5L1855.5 1354.6L1789.5 1354.6L1789.5 1202.4" stroke="#999" stroke-width="0.85" fill="none"/>
<rect x="1789.5" y="1202.4" width="58.1" height="152.2" fill="none" stroke="#888" stroke-width="0.85" />
<rect x="1793.1" y="1206.3" width="50.1" height="144.3" rx="15" fill="none" stroke="#999" stroke-width="0.8"/><rect x="1815" y="1213.8" width="6" height="6" rx="1.5" fill="none" stroke="#999" stroke-width="0.8"/>
<g transform="translate(1888.2 1216.6) rotate(90) scale(1.0)" fill="none" stroke="#888" stroke-width="0.8"><path d="M-16 -21L-2 -21C8 -21 14 -10 14 0C14 10 8 21 -2 21L-16 21"/><ellipse cx="0" cy="0" rx="9.5" ry="16.5"/><circle cx="0" cy="0" r="1.2"/></g>
<g transform="translate(1955.6 1242) rotate(90) scale(1.0)" fill="none" stroke="#888" stroke-width="0.8"><path d="M-20 -14C-30 -17 -37 -22 -39 -19L-39 19C-37 22 -30 17 -20 14C-21 5 -21 -5 -20 -14Z"/><path d="M-20 -14C-5 -20 19 -16 19.5 0C19 16 -5 20 -20 14"/><ellipse cx="-31" cy="0" rx="1.6" ry="1.1"/></g>
<path d="M1859.5 1358L1859.5 1409A51 51 0 0 0 1910.5 1358" stroke="#999" stroke-width="0.9" fill="none"/>
<rect x="1913.6" y="1354.6" width="82.6" height="6.9" fill="none" stroke="#999" stroke-width="0.85" />
<text x="1901.5" y="1331.8" font-size="56" textLength="68.7" lengthAdjust="spacingAndGlyphs">3,7</text>
<path d="M1902.1 1342.7L1971.5 1342.7" stroke="#777" stroke-width="1" fill="none"/>
<rect x="1987.6" y="1202.4" width="7" height="73.3" fill="none" stroke="#999" stroke-width="0.85" />
<rect x="2001.2" y="1202.4" width="17.3" height="34" fill="none" stroke="#888" stroke-width="0.85" />
<path d="M2001.2 1202.4L2018.5 1236.4" stroke="#999" stroke-width="0.8" fill="none"/>
<path d="M2018.5 1202.4L2018.5 1275.7" stroke="#999" stroke-width="0.85" fill="none"/>
<rect x="1987.6" y="1275.7" width="30.9" height="78.9" fill="url(#pF2)" stroke="#666" stroke-width="0.85" />
<rect x="1992.3" y="1279.1" width="21.2" height="8.5" fill="#fff" stroke="#555" stroke-width="0.85" />
<rect x="1992.3" y="1292.5" width="21.2" height="44.6" fill="#fff" stroke="#555" stroke-width="0.85" />
<rect x="1992.3" y="1342.5" width="21.2" height="7.9" fill="#fff" stroke="#555" stroke-width="0.85" />
<path d="M1996.2 1361.5L1996.2 1364.5L2002.6 1364.5L2002.6 1354.6" stroke="#999" stroke-width="0.85" fill="none"/>
<path d="M1999 1368.9L2058 1368.9A59 59 0 0 1 1999 1427.9" stroke="#999" stroke-width="0.9" fill="none"/>
<path d="M1996.2 1436L1996.2 1432.5L2002.6 1432.5L2002.6 1467" stroke="#999" stroke-width="0.85" fill="none"/>
<rect x="1942.4" y="1437.3" width="16.1" height="101" fill="url(#pB)" stroke="#888" stroke-width="0.85" />
<rect x="1942.4" y="1538.3" width="16.1" height="150" fill="url(#pH)" stroke="#aaa" stroke-width="0.75" />
<rect x="1971.5" y="1444.5" width="24.7" height="16.5" fill="none" stroke="#888" stroke-width="0.85" />
<path d="M1971.5 1444.5L1996.2 1461" stroke="#999" stroke-width="0.8" fill="none"/>
<path d="M1958.5 1444.5L1971.5 1444.5" stroke="#999" stroke-width="0.85" fill="none"/>
<path d="M1958.5 1461L1996.2 1461" stroke="#999" stroke-width="0.85" fill="none"/>
<rect x="1958.5" y="1467.2" width="49.7" height="221.1" fill="none" stroke="#999" stroke-width="0.85" />
<g transform="translate(1983.7 1511.6) rotate(90)" fill="none" stroke="#888" stroke-width="0.8"><rect x="-29.6" y="-21" width="59.2" height="42" rx="3"/><rect x="-26.1" y="-17.5" width="52.2" height="35" rx="3"/><rect x="0" y="-16" width="24.1" height="32" rx="3"/><rect x="-17.8" y="-14.5" width="13" height="21" rx="2" fill="url(#pG)"/><path d="M-24.6 -13h7.7M-24.6 -8.3h7.7M-24.6 -3.7h7.7M-24.6 1h7.7M-24.6 5.7h7.7M-24.6 10.3h7.7"/><path d="M-2.4 15L5.9 0.8" stroke-width="2.4" stroke="#888"/><path d="M-2.4 15L5.9 0.8" stroke-width="1" stroke="#fff"/><circle cx="8.3" cy="11.8" r="2"/></g>
<rect x="1958.5" y="1567.3" width="49.7" height="50.8" fill="none" stroke="#777" stroke-width="0.85" />
<rect x="1962.5" y="1571.3" width="41.7" height="42.8" rx="4" fill="none" stroke="#999" stroke-width="0.8"/>
<circle cx="1973.4" cy="1582.5" r="6.2" fill="none" stroke="#777" stroke-width="0.8"/>
<circle cx="1973.4" cy="1582.5" r="3.5" fill="none" stroke="#888" stroke-width="0.8"/>
<circle cx="1973.4" cy="1602.9" r="6.2" fill="none" stroke="#777" stroke-width="0.8"/>
<circle cx="1973.4" cy="1602.9" r="3.5" fill="none" stroke="#888" stroke-width="0.8"/>
<circle cx="1993.3" cy="1582.5" r="6.2" fill="none" stroke="#777" stroke-width="0.8"/>
<circle cx="1993.3" cy="1582.5" r="3.5" fill="none" stroke="#888" stroke-width="0.8"/>
<circle cx="1993.3" cy="1602.9" r="6.2" fill="none" stroke="#777" stroke-width="0.8"/>
<circle cx="1993.3" cy="1602.9" r="3.5" fill="none" stroke="#888" stroke-width="0.8"/>
<path d="M1958.5 1629L2008.2 1629" stroke="#999" stroke-width="0.85" fill="none"/>
<text x="2037.4" y="1644.8" font-size="56" textLength="95.6" lengthAdjust="spacingAndGlyphs">12,2</text>
<path d="M2036.4 1657.2L2132.6 1657.2" stroke="#777" stroke-width="1" fill="none"/>
<rect x="1900.3" y="1688.3" width="132.9" height="33" fill="#fff" stroke="#999" stroke-width="0.85" />
<rect x="1900.3" y="1709.7" width="17.1" height="100.2" fill="url(#pB)" stroke="#888" stroke-width="0.85" />
<rect x="1917.4" y="1688.3" width="115.8" height="33" fill="#fff" stroke="#999" stroke-width="0.85" />
<path d="M2012.1 1705.8L2014.3 1707.1L2012.1 1708.4ZM1974.9 1708.1L1973.5 1705.1L1976.8 1705.5ZM1977.3 1717.5L1980.2 1717.3L1978.9 1719.9ZM1933.8 1694.1L1934.9 1696.3L1932.5 1696.2ZM1929.4 1695.6L1932.6 1694.3L1932.2 1697.8ZM1988.9 1713.6L1986.7 1713.9L1987.5 1711.8ZM2004.7 1698.4L2006.6 1700.5L2003.8 1701.1ZM1940.7 1699.7L1937.1 1699.4L1939.2 1696.4ZM1982.8 1701.2L1984.7 1699.1L1985.6 1701.8Z" stroke="#888" stroke-width="0.6" fill="none"/>
<path d="M1925.5 1716.1h.7M1984.5 1718.1h.7M1968.6 1708.3h.7M1947.3 1691.6h.7M2023.5 1715.1h.7M1954.6 1716.4h.7M2010.6 1699.1h.7M1986.8 1718.1h.7M1974.8 1717.8h.7M1946.6 1701.6h.7M1999.7 1696.7h.7M1954 1715.7h.7M1973.6 1713.3h.7M1946.6 1695.3h.7M1959.5 1695.7h.7M2028 1698.7h.7M1982.2 1693.6h.7M1979.1 1701.5h.7M1964.5 1692.2h.7M1933.2 1714.2h.7M1958.7 1697.4h.7M1940.8 1698.5h.7M1945.9 1691.3h.7M1993.7 1700.2h.7M1936.8 1710.8h.7M1929.8 1698.1h.7M2012.8 1694h.7M1969 1714.6h.7M2009.4 1694.9h.7M1958.9 1711.3h.7M1961.5 1718.1h.7M1942.7 1717.9h.7M1975.8 1696.9h.7M1970 1694.1h.7M1998.4 1697.9h.7M2020 1707.3h.7M1960.5 1697.4h.7M1987.4 1696.5h.7M2016.9 1693.9h.7M1976.8 1706h.7M1949.6 1712.7h.7M1962.4 1709.4h.7M1982.9 1699.3h.7M1963 1692.8h.7M1939.2 1715h.7" stroke="#bbb" stroke-width="0.7" fill="none"/>
<rect x="1900.3" y="1688.3" width="17.1" height="21.4" fill="#fff" stroke="#999" stroke-width="0.85" />
<path d="M2033.2 1688.3L2220.8 1688.3" stroke="#999" stroke-width="0.85" fill="none"/>
<rect x="2033.2" y="1713.4" width="104" height="7.9" fill="#fff" stroke="#888" stroke-width="0.85" />
<path d="M2039.5 1717.3L2131 1717.3" stroke="#aaa" stroke-width="0.85" fill="none"/>
<path d="M2039.5 1713.4L2039.5 1721.3" stroke="#999" stroke-width="0.85" fill="none"/>
<path d="M2131 1713.4L2131 1721.3" stroke="#999" stroke-width="0.85" fill="none"/>
<path d="M2033.2 1688.3L2033.2 1721.3" stroke="#777" stroke-width="0.85" fill="none"/>
<path d="M2137.2 1688.3L2137.2 1721.3" stroke="#aaa" stroke-width="0.85" fill="none"/>
<path d="M2192.5 1717.8L2192.5 1666.3A51.5 51.5 0 0 0 2141 1717.8" stroke="#999" stroke-width="0.9" fill="none"/>
<rect x="2197.4" y="1688.3" width="23.4" height="33" fill="#fff" stroke="#999" stroke-width="0.85" />
<path d="M1917.4 1721.3L1929.4 1721.3L1929.4 1823.4L1896.3 1823.4L1896.3 1789.3L1900.3 1789.3L1900.3 1809.9L1917.4 1809.9Z" stroke="#7c7c7c" stroke-width="0.85" fill="url(#pX)"/>
<path d="M1929.4 1721.3L2039.3 1721.3L2039.3 1732.1L1939.6 1732.1L1939.6 1833.5L1833.5 1833.5L1833.5 1823.4L1929.4 1823.4Z" stroke="#a0a0a0" stroke-width="0.85" fill="url(#pF)"/>
<path d="M2039.3 1721.3L2141.5 1721.3" stroke="#999" stroke-width="0.85" fill="none"/>
<path d="M2039.3 1732.1L2191.1 1732.1" stroke="#999" stroke-width="0.85" fill="none"/>
<path d="M2141.5 1721.3L2141.5 1732.1" stroke="#999" stroke-width="0.85" fill="none"/>
<path d="M2191.1 1721.3L2212.7 1721.3L2212.7 1823.4L2253.6 1823.4L2253.6 1367.3L2328.3 1367.3L2328.3 1377.4L2264.6 1377.4L2264.6 1833.5L2202.6 1833.5L2202.6 1732.1L2191.1 1732.1Z" stroke="#a0a0a0" stroke-width="0.85" fill="url(#pF)"/>
<path d="M2212.7 1721.3L2224.8 1721.3L2224.8 1809.9L2241.5 1809.9L2241.5 1354.6L2323.3 1354.6L2323.3 1367.3L2253.6 1367.3L2253.6 1823.4L2212.7 1823.4Z" stroke="#7c7c7c" stroke-width="0.85" fill="url(#pX)"/>
<rect x="2224.8" y="1354.6" width="16.7" height="355" fill="url(#pHs)" stroke="#888" stroke-width="0.85" />
<rect x="2224.8" y="1709.6" width="16.7" height="100.3" fill="url(#pB)" stroke="#888" stroke-width="0.85" />
<path d="M1939.6 1823.4L2202.6 1823.4" stroke="#999" stroke-width="0.85" fill="none"/>
<path d="M1949.1 1828.5L2193.1 1828.5" stroke="#aaa" stroke-width="0.85" fill="none"/>
<path d="M1939.6 1833.5L2202.6 1833.5" stroke="#999" stroke-width="0.85" fill="none"/>
<rect x="1939.6" y="1823.4" width="9.5" height="10.1" fill="#fff" stroke="#888" stroke-width="0.85" />
<rect x="2000.4" y="1823.4" width="9.8" height="10.1" fill="#fff" stroke="#888" stroke-width="0.85" />
<rect x="2066.4" y="1823.4" width="10" height="10.1" fill="#fff" stroke="#888" stroke-width="0.85" />
<rect x="2131.5" y="1823.4" width="10" height="10.1" fill="#fff" stroke="#888" stroke-width="0.85" />
<rect x="2193.1" y="1823.4" width="9.5" height="10.1" fill="#fff" stroke="#888" stroke-width="0.85" />
<text x="2015.7" y="1793.2" font-size="56" textLength="154" lengthAdjust="spacingAndGlyphs">3,5/1,7</text>
<path d="M2016 1804.7L2170 1804.7" stroke="#777" stroke-width="1" fill="none"/>
</svg>
</body></html>
